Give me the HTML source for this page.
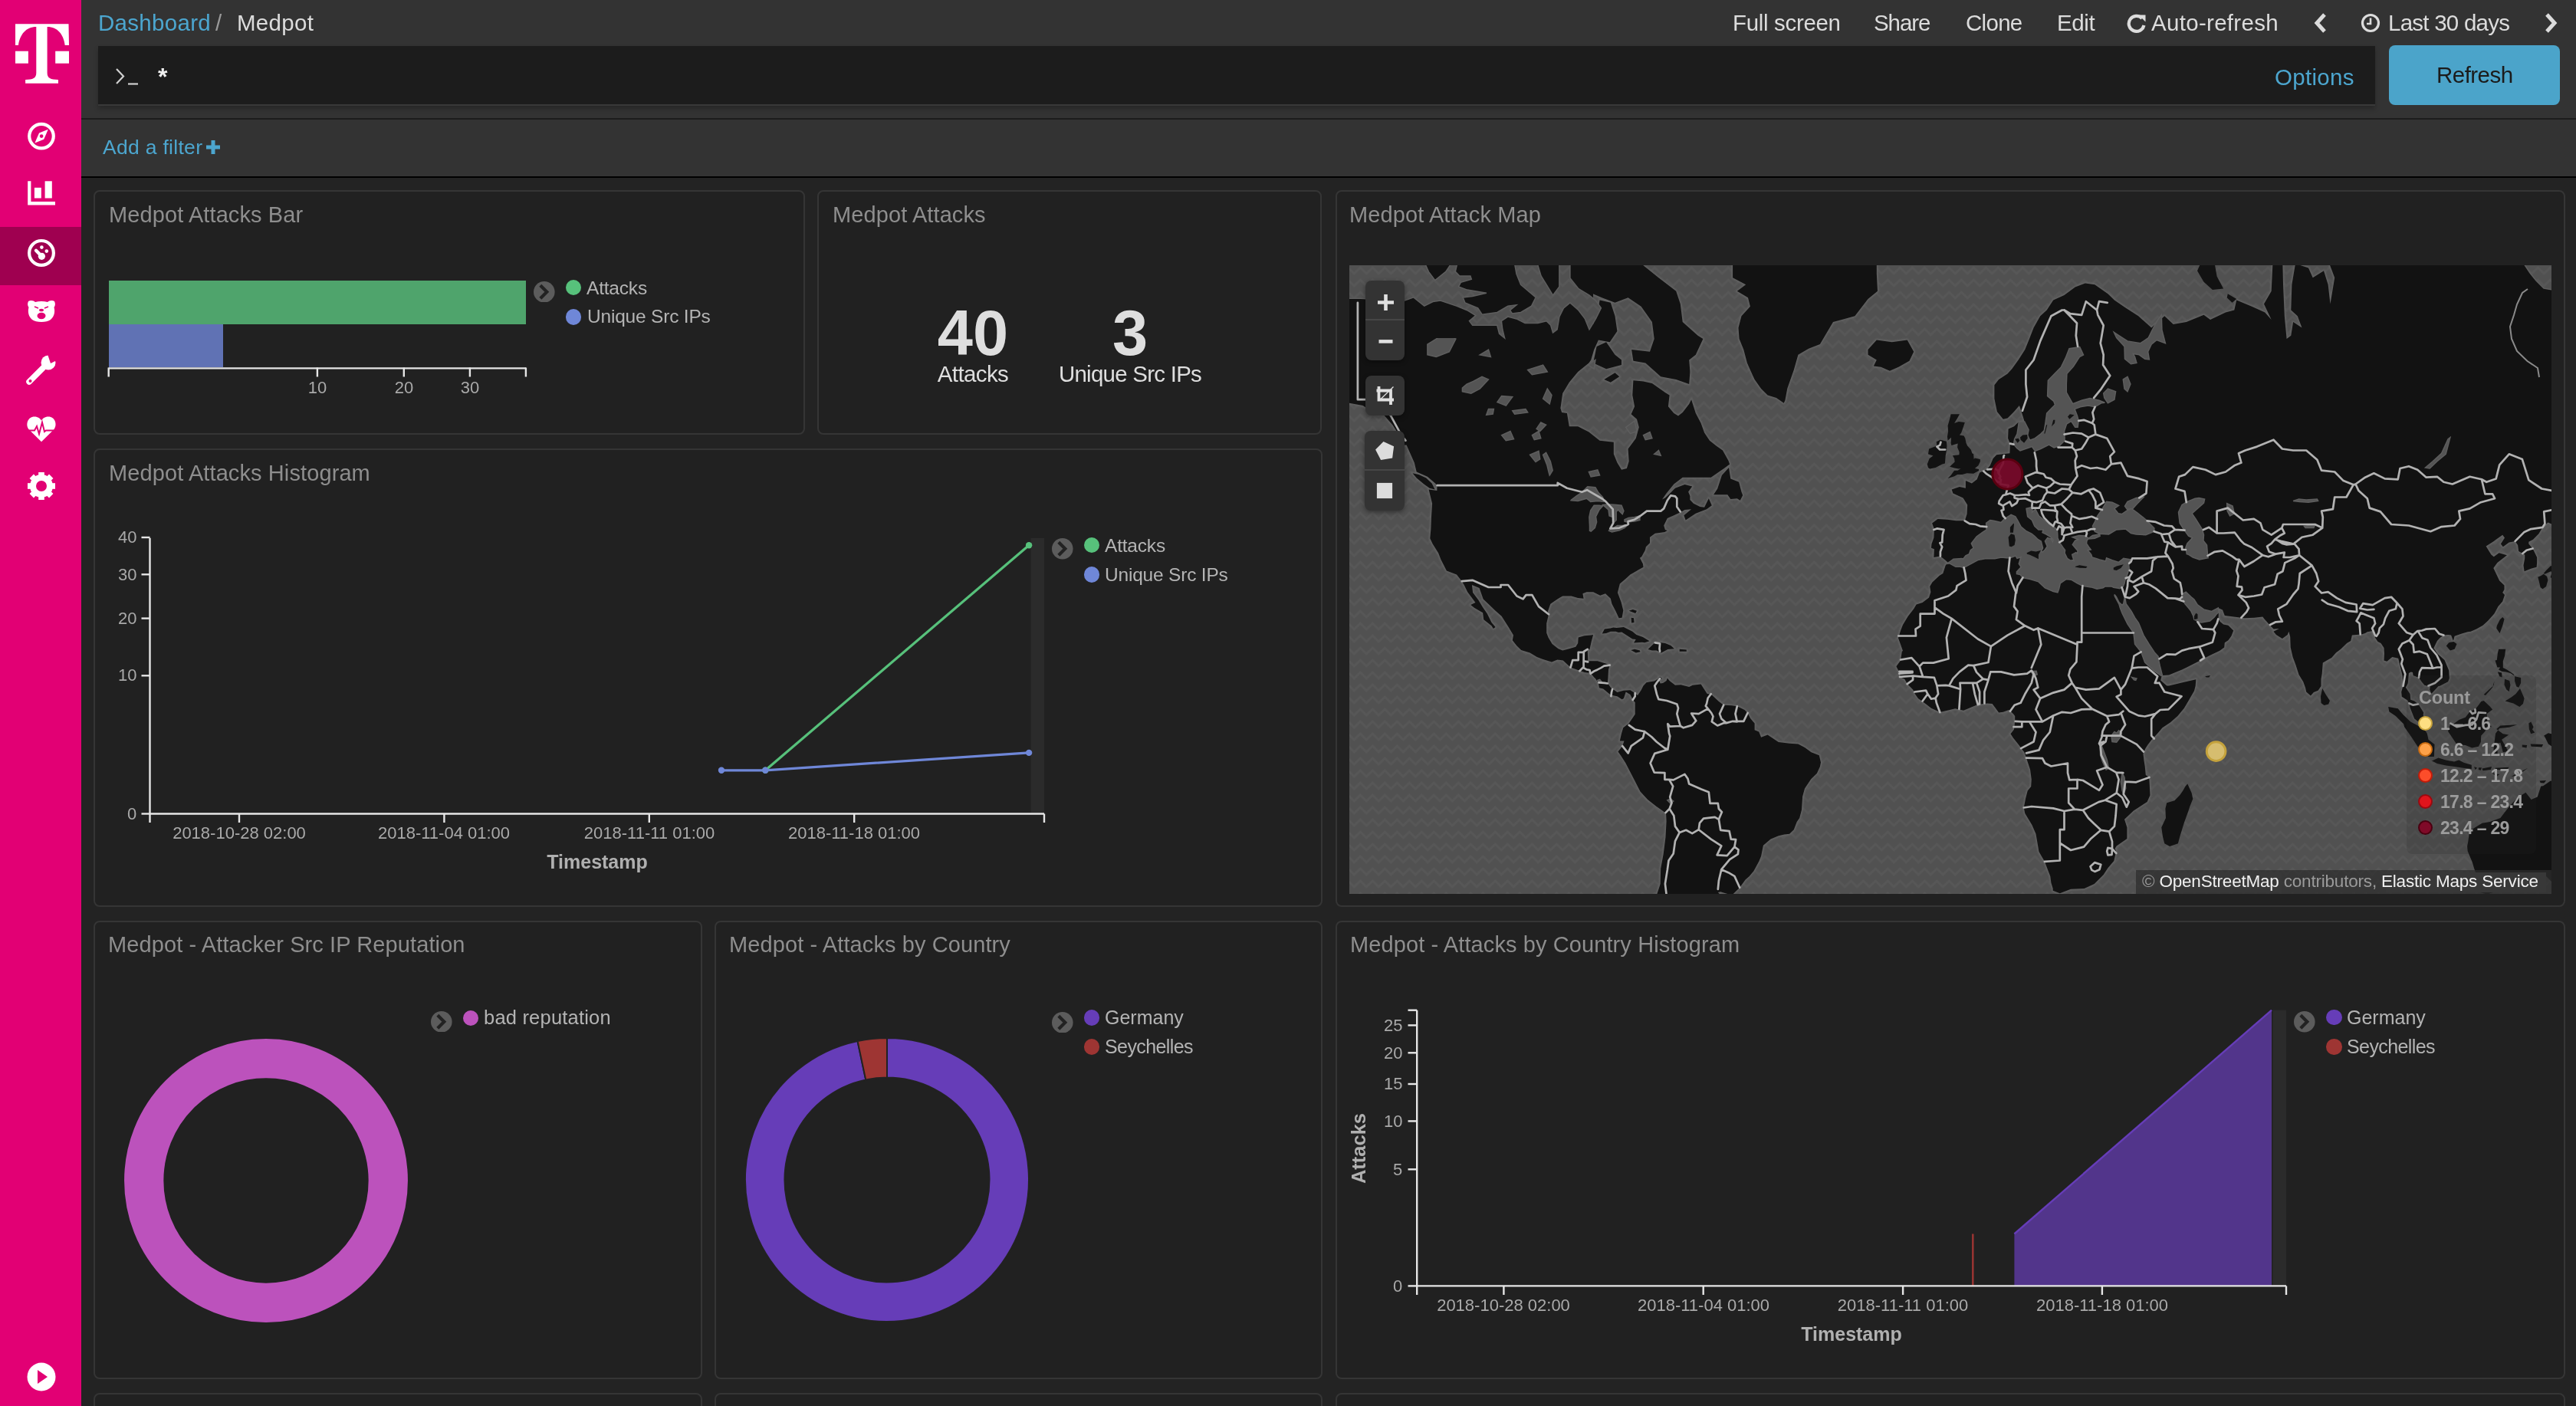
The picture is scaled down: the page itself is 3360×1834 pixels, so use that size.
<!DOCTYPE html><html><head><meta charset="utf-8"><style>html,body{margin:0;padding:0;}body{width:3360px;height:1834px;overflow:hidden;position:relative;background:#232323;font-family:"Liberation Sans", sans-serif;}div{font-family:"Liberation Sans", sans-serif;-webkit-font-smoothing:antialiased}</style></head><body>
<div style="position:absolute;left:106px;top:0;width:3254px;height:154px;background:#333"></div>
<div style="position:absolute;left:106px;top:154px;width:3254px;height:2px;background:#1c1c1c"></div>
<div style="position:absolute;left:106px;top:156px;width:3254px;height:74px;background:#333"></div>
<div style="position:absolute;left:106px;top:230px;width:3254px;height:2px;background:#000"></div>
<div style="position:absolute;left:127.5px;top:15.0px;font-size:29.5px;line-height:29.5px;color:#4ca6cf;font-weight:normal;letter-spacing:0.30px;white-space:nowrap;will-change:transform;">Dashboard</div>
<div style="position:absolute;left:281.0px;top:15.0px;font-size:29.5px;line-height:29.5px;color:#9a9a9a;font-weight:normal;letter-spacing:0.00px;white-space:nowrap;will-change:transform;">/</div>
<div style="position:absolute;left:309.0px;top:15.0px;font-size:29.5px;line-height:29.5px;color:#dcdcdc;font-weight:normal;letter-spacing:0.30px;white-space:nowrap;will-change:transform;">Medpot</div>
<div style="position:absolute;left:2260.0px;top:15.0px;font-size:29.5px;line-height:29.5px;color:#dcdcdc;font-weight:normal;letter-spacing:-0.33px;white-space:nowrap;will-change:transform;">Full screen</div>
<div style="position:absolute;left:2444.0px;top:15.0px;font-size:29.5px;line-height:29.5px;color:#dcdcdc;font-weight:normal;letter-spacing:-1.07px;white-space:nowrap;will-change:transform;">Share</div>
<div style="position:absolute;left:2563.5px;top:15.0px;font-size:29.5px;line-height:29.5px;color:#dcdcdc;font-weight:normal;letter-spacing:-0.70px;white-space:nowrap;will-change:transform;">Clone</div>
<div style="position:absolute;left:2682.5px;top:15.0px;font-size:29.5px;line-height:29.5px;color:#dcdcdc;font-weight:normal;letter-spacing:-0.37px;white-space:nowrap;will-change:transform;">Edit</div>
<div style="position:absolute;left:2806.0px;top:15.0px;font-size:29.5px;line-height:29.5px;color:#dcdcdc;font-weight:normal;letter-spacing:0.30px;white-space:nowrap;will-change:transform;">Auto-refresh</div>
<div style="position:absolute;left:3114.5px;top:15.0px;font-size:29.5px;line-height:29.5px;color:#dcdcdc;font-weight:normal;letter-spacing:-0.75px;white-space:nowrap;will-change:transform;">Last 30 days</div>
<svg style="position:absolute;left:2773px;top:16px" width="28" height="28" viewBox="0 0 28 28"><path d="M21 8 A10 10 0 1 0 23.5 17" stroke="#dcdcdc" stroke-width="4.2" fill="none"/><path d="M16.5 3.5 L25.5 3.5 L25.5 12.5 Z" fill="#dcdcdc"/></svg>
<svg style="position:absolute;left:3015px;top:15px" width="24" height="30" viewBox="0 0 24 30"><path d="M17 4 L7 15 L17 26" stroke="#dcdcdc" stroke-width="5" fill="none"/></svg>
<svg style="position:absolute;left:3316px;top:15px" width="24" height="30" viewBox="0 0 24 30"><path d="M6 4 L16 15 L6 26" stroke="#dcdcdc" stroke-width="5" fill="none"/></svg>
<svg style="position:absolute;left:3079px;top:17px" width="26" height="26" viewBox="0 0 26 26"><circle cx="13" cy="13" r="10.5" stroke="#dcdcdc" stroke-width="3.2" fill="none"/><path d="M13 6.5 V14 H8" stroke="#dcdcdc" stroke-width="2.6" fill="none"/></svg>
<div style="position:absolute;left:128px;top:60px;width:2970px;height:76px;background:#1c1c1c;border-bottom:2px solid #393939;box-shadow:0 4px 6px rgba(0,0,0,0.25)"></div>
<svg style="position:absolute;left:150px;top:88px" width="34" height="24" viewBox="0 0 34 24"><path d="M2 2 L11 11.5 L2 21" stroke="#d0d0d0" stroke-width="2.2" fill="none"/><path d="M17 21.5 H30" stroke="#d0d0d0" stroke-width="2.2"/></svg>
<div style="position:absolute;left:206.0px;top:83.9px;font-size:32.0px;line-height:32.0px;color:#f0f0f0;font-weight:bold;letter-spacing:0.00px;white-space:nowrap;will-change:transform;">*</div>
<div style="position:absolute;left:2967.0px;top:85.5px;font-size:29.5px;line-height:29.5px;color:#4ca6cf;font-weight:normal;letter-spacing:0.30px;white-space:nowrap;will-change:transform;">Options</div>
<div style="position:absolute;left:3116px;top:58.5px;width:223px;height:78.5px;background:#4ba4ca;border-radius:8px"></div>
<div style="position:absolute;left:3177.5px;top:83.0px;font-size:29.5px;line-height:29.5px;color:#1b1b1b;font-weight:normal;letter-spacing:-0.53px;white-space:nowrap;will-change:transform;">Refresh</div>
<div style="position:absolute;left:134.0px;top:178.6px;font-size:26.5px;line-height:26.5px;color:#4ca6cf;font-weight:normal;letter-spacing:0.30px;white-space:nowrap;will-change:transform;">Add a filter</div>
<svg style="position:absolute;left:268px;top:182px" width="20" height="20" viewBox="0 0 20 20"><path d="M10 1 V19 M1 10 H19" stroke="#4ca6cf" stroke-width="5"/></svg>
<div style="position:absolute;left:122px;top:248px;width:928px;height:319px;box-sizing:border-box;border:2px solid #353535;border-radius:8px;background:#212121"></div><div style="position:absolute;left:141.5px;top:265.9px;font-size:29.0px;line-height:29.0px;color:#8e8e8e;font-weight:normal;letter-spacing:0.10px;white-space:nowrap;will-change:transform;">Medpot Attacks Bar</div>
<div style="position:absolute;left:1066px;top:248px;width:658px;height:319px;box-sizing:border-box;border:2px solid #353535;border-radius:8px;background:#212121"></div><div style="position:absolute;left:1085.5px;top:265.9px;font-size:29.0px;line-height:29.0px;color:#8e8e8e;font-weight:normal;letter-spacing:0.10px;white-space:nowrap;will-change:transform;">Medpot Attacks</div>
<div style="position:absolute;left:1742px;top:248px;width:1604px;height:935px;box-sizing:border-box;border:2px solid #353535;border-radius:8px;background:#212121"></div><div style="position:absolute;left:1760.3px;top:265.9px;font-size:29.0px;line-height:29.0px;color:#8e8e8e;font-weight:normal;letter-spacing:0.10px;white-space:nowrap;will-change:transform;">Medpot Attack Map</div>
<div style="position:absolute;left:122px;top:585px;width:1603px;height:598px;box-sizing:border-box;border:2px solid #353535;border-radius:8px;background:#212121"></div><div style="position:absolute;left:141.5px;top:602.9px;font-size:29.0px;line-height:29.0px;color:#8e8e8e;font-weight:normal;letter-spacing:0.10px;white-space:nowrap;will-change:transform;">Medpot Attacks Histogram</div>
<div style="position:absolute;left:122px;top:1201px;width:794px;height:598px;box-sizing:border-box;border:2px solid #353535;border-radius:8px;background:#212121"></div><div style="position:absolute;left:140.5px;top:1218.0px;font-size:29.0px;line-height:29.0px;color:#8e8e8e;font-weight:normal;letter-spacing:0.10px;white-space:nowrap;will-change:transform;">Medpot - Attacker Src IP Reputation</div>
<div style="position:absolute;left:932px;top:1201px;width:793px;height:598px;box-sizing:border-box;border:2px solid #353535;border-radius:8px;background:#212121"></div><div style="position:absolute;left:950.7px;top:1218.0px;font-size:29.0px;line-height:29.0px;color:#8e8e8e;font-weight:normal;letter-spacing:0.10px;white-space:nowrap;will-change:transform;">Medpot - Attacks by Country</div>
<div style="position:absolute;left:1742px;top:1201px;width:1604px;height:598px;box-sizing:border-box;border:2px solid #353535;border-radius:8px;background:#212121"></div><div style="position:absolute;left:1760.8px;top:1218.0px;font-size:29.0px;line-height:29.0px;color:#8e8e8e;font-weight:normal;letter-spacing:0.10px;white-space:nowrap;will-change:transform;">Medpot - Attacks by Country Histogram</div>
<div style="position:absolute;left:122px;top:1817px;width:794px;height:83px;box-sizing:border-box;border:2px solid #353535;border-radius:8px;background:#212121"></div>
<div style="position:absolute;left:932px;top:1817px;width:793px;height:83px;box-sizing:border-box;border:2px solid #353535;border-radius:8px;background:#212121"></div>
<div style="position:absolute;left:1742px;top:1817px;width:1604px;height:83px;box-sizing:border-box;border:2px solid #353535;border-radius:8px;background:#212121"></div>
<div style="position:absolute;left:142px;top:366px;width:544px;height:57px;background:#4fa46c"></div>
<div style="position:absolute;left:142px;top:423px;width:149px;height:56px;background:#6072b4"></div>
<svg style="position:absolute;left:0;top:0" width="1100" height="560"><path d="M141.7 480.4 H686" stroke="#e6e6e6" stroke-width="2.4"/><path d="M141.7 479.5 V491.5" stroke="#e6e6e6" stroke-width="2.4"/><path d="M413.9 479.5 V491.5" stroke="#e6e6e6" stroke-width="2.4"/><path d="M526.8 479.5 V491.5" stroke="#e6e6e6" stroke-width="2.4"/><path d="M612.9 479.5 V491.5" stroke="#e6e6e6" stroke-width="2.4"/><path d="M685.9 479.5 V491.5" stroke="#e6e6e6" stroke-width="2.4"/></svg>
<div style="position:absolute;left:413.9px;top:494.5px;font-size:22.0px;line-height:22.0px;color:#a9a9a9;font-weight:normal;letter-spacing:0.00px;white-space:nowrap;will-change:transform;transform:translateX(-50%);">10</div>
<div style="position:absolute;left:526.8px;top:494.5px;font-size:22.0px;line-height:22.0px;color:#a9a9a9;font-weight:normal;letter-spacing:0.00px;white-space:nowrap;will-change:transform;transform:translateX(-50%);">20</div>
<div style="position:absolute;left:612.9px;top:494.5px;font-size:22.0px;line-height:22.0px;color:#a9a9a9;font-weight:normal;letter-spacing:0.00px;white-space:nowrap;will-change:transform;transform:translateX(-50%);">30</div>
<svg style="position:absolute;left:696.4px;top:366.6px" width="27.6" height="27.6"><circle cx="13.8" cy="13.8" r="13.8" fill="#5c5c5c"/><path d="M10.3 6.8 L17.3 13.8 L10.3 20.8" stroke="#222" stroke-width="4.2" fill="none" stroke-linecap="square"/></svg>
<div style="position:absolute;left:737.9px;top:365.1px;width:20.4px;height:20.4px;border-radius:50%;background:#57c17b"></div>
<div style="position:absolute;left:737.9px;top:403.2px;width:20.4px;height:20.4px;border-radius:50%;background:#6f87d8"></div>
<div style="position:absolute;left:764.6px;top:363.5px;font-size:24.5px;line-height:24.5px;color:#b4b4b4;font-weight:normal;letter-spacing:-0.20px;white-space:nowrap;will-change:transform;">Attacks</div>
<div style="position:absolute;left:765.9px;top:401.0px;font-size:24.5px;line-height:24.5px;color:#b4b4b4;font-weight:normal;letter-spacing:-0.20px;white-space:nowrap;will-change:transform;">Unique Src IPs</div>
<div style="position:absolute;left:1268.9px;top:393.2px;font-size:83.0px;line-height:83.0px;color:#dedede;font-weight:bold;letter-spacing:0.00px;white-space:nowrap;will-change:transform;transform:translateX(-50%);">40</div>
<div style="position:absolute;left:1474.0px;top:393.2px;font-size:83.0px;line-height:83.0px;color:#dedede;font-weight:bold;letter-spacing:0.00px;white-space:nowrap;will-change:transform;transform:translateX(-50%);">3</div>
<div style="position:absolute;left:1269.0px;top:473.3px;font-size:29.5px;line-height:29.5px;color:#dedede;font-weight:normal;letter-spacing:-0.60px;white-space:nowrap;will-change:transform;transform:translateX(-50%);">Attacks</div>
<div style="position:absolute;left:1474.2px;top:473.3px;font-size:29.5px;line-height:29.5px;color:#dedede;font-weight:normal;letter-spacing:-0.75px;white-space:nowrap;will-change:transform;transform:translateX(-50%);">Unique Src IPs</div>
<svg style="position:absolute;left:0;top:0" width="1730" height="1190"><rect x="1344.7" y="701.8" width="17.3" height="359.7" fill="#2b2b2b"/><path d="M195.5 701.8 V1062.5 M195 1061.5 H1362" stroke="#e6e6e6" stroke-width="2.4"/><path d="M184.5 1061.5 H195.5" stroke="#e6e6e6" stroke-width="2.4"/><path d="M184.5 881.3 H195.5" stroke="#e6e6e6" stroke-width="2.4"/><path d="M184.5 806.6 H195.5" stroke="#e6e6e6" stroke-width="2.4"/><path d="M184.5 749.3 H195.5" stroke="#e6e6e6" stroke-width="2.4"/><path d="M184.5 701.0 H195.5" stroke="#e6e6e6" stroke-width="2.4"/><path d="M195.5 1061.5 V1073" stroke="#e6e6e6" stroke-width="2.4"/><path d="M312.0 1061.5 V1073" stroke="#e6e6e6" stroke-width="2.4"/><path d="M579.4 1061.5 V1073" stroke="#e6e6e6" stroke-width="2.4"/><path d="M846.8 1061.5 V1073" stroke="#e6e6e6" stroke-width="2.4"/><path d="M1114.2 1061.5 V1073" stroke="#e6e6e6" stroke-width="2.4"/><path d="M1362.0 1061.5 V1073" stroke="#e6e6e6" stroke-width="2.4"/><path d="M998.3 1004.8 L1342.1 711.3" stroke="#57c17b" stroke-width="3.2" fill="none"/><path d="M941 1004.8 L998.3 1004.8 L1342.1 981.9" stroke="#6f87d8" stroke-width="3.2" fill="none"/><circle cx="998.3" cy="1004.8" r="4.2" fill="#57c17b"/><circle cx="1342.1" cy="711.3" r="4.2" fill="#57c17b"/><circle cx="941.0" cy="1004.8" r="4.2" fill="#6f87d8"/><circle cx="998.3" cy="1004.8" r="4.2" fill="#6f87d8"/><circle cx="1342.1" cy="981.9" r="4.2" fill="#6f87d8"/></svg>
<div style="position:absolute;right:3182.0px;top:1050.7px;font-size:22.0px;line-height:22.0px;color:#a9a9a9;font-weight:normal;letter-spacing:0.00px;white-space:nowrap;will-change:transform;">0</div>
<div style="position:absolute;right:3182.0px;top:870.4px;font-size:22.0px;line-height:22.0px;color:#a9a9a9;font-weight:normal;letter-spacing:0.00px;white-space:nowrap;will-change:transform;">10</div>
<div style="position:absolute;right:3182.0px;top:795.8px;font-size:22.0px;line-height:22.0px;color:#a9a9a9;font-weight:normal;letter-spacing:0.00px;white-space:nowrap;will-change:transform;">20</div>
<div style="position:absolute;right:3182.0px;top:738.5px;font-size:22.0px;line-height:22.0px;color:#a9a9a9;font-weight:normal;letter-spacing:0.00px;white-space:nowrap;will-change:transform;">30</div>
<div style="position:absolute;right:3182.0px;top:690.2px;font-size:22.0px;line-height:22.0px;color:#a9a9a9;font-weight:normal;letter-spacing:0.00px;white-space:nowrap;will-change:transform;">40</div>
<div style="position:absolute;left:312.0px;top:1076.4px;font-size:22.0px;line-height:22.0px;color:#a9a9a9;font-weight:normal;letter-spacing:0.00px;white-space:nowrap;will-change:transform;transform:translateX(-50%);">2018-10-28 02:00</div>
<div style="position:absolute;left:579.4px;top:1076.4px;font-size:22.0px;line-height:22.0px;color:#a9a9a9;font-weight:normal;letter-spacing:0.00px;white-space:nowrap;will-change:transform;transform:translateX(-50%);">2018-11-04 01:00</div>
<div style="position:absolute;left:846.8px;top:1076.4px;font-size:22.0px;line-height:22.0px;color:#a9a9a9;font-weight:normal;letter-spacing:0.00px;white-space:nowrap;will-change:transform;transform:translateX(-50%);">2018-11-11 01:00</div>
<div style="position:absolute;left:1114.2px;top:1076.4px;font-size:22.0px;line-height:22.0px;color:#a9a9a9;font-weight:normal;letter-spacing:0.00px;white-space:nowrap;will-change:transform;transform:translateX(-50%);">2018-11-18 01:00</div>
<div style="position:absolute;left:778.7px;top:1112.3px;font-size:25.0px;line-height:25.0px;color:#b0b0b0;font-weight:bold;letter-spacing:0.00px;white-space:nowrap;will-change:transform;transform:translateX(-50%);">Timestamp</div>
<svg style="position:absolute;left:1372.2px;top:702.0px" width="27.6" height="27.6"><circle cx="13.8" cy="13.8" r="13.8" fill="#5c5c5c"/><path d="M10.3 6.8 L17.3 13.8 L10.3 20.8" stroke="#222" stroke-width="4.2" fill="none" stroke-linecap="square"/></svg>
<div style="position:absolute;left:1414.0px;top:701.1px;width:20.4px;height:20.4px;border-radius:50%;background:#57c17b"></div>
<div style="position:absolute;left:1414.0px;top:739.3px;width:20.4px;height:20.4px;border-radius:50%;background:#6f87d8"></div>
<div style="position:absolute;left:1441.4px;top:699.8px;font-size:24.5px;line-height:24.5px;color:#b4b4b4;font-weight:normal;letter-spacing:-0.20px;white-space:nowrap;will-change:transform;">Attacks</div>
<div style="position:absolute;left:1441.4px;top:737.8px;font-size:24.5px;line-height:24.5px;color:#b4b4b4;font-weight:normal;letter-spacing:-0.20px;white-space:nowrap;will-change:transform;">Unique Src IPs</div>
<svg style="position:absolute;left:158.5px;top:1351.5px" width="376.0" height="376.0"><circle cx="188.0" cy="188.0" r="159.3" stroke="#bc52bc" stroke-width="51.3" fill="none"/></svg>
<svg style="position:absolute;left:562.0px;top:1318.8px" width="27.6" height="27.6"><circle cx="13.8" cy="13.8" r="13.8" fill="#5c5c5c"/><path d="M10.3 6.8 L17.3 13.8 L10.3 20.8" stroke="#222" stroke-width="4.2" fill="none" stroke-linecap="square"/></svg>
<div style="position:absolute;left:603.8px;top:1317.8px;width:20.4px;height:20.4px;border-radius:50%;background:#bc52bc"></div>
<div style="position:absolute;left:631.0px;top:1315.4px;font-size:25.5px;line-height:25.5px;color:#b4b4b4;font-weight:normal;letter-spacing:0.20px;white-space:nowrap;will-change:transform;">bad reputation</div>
<svg style="position:absolute;left:968.8px;top:1351.3px" width="376.0" height="376.0"><path d="M188.00 3.00 A185.0 185.0 0 1 1 149.54 7.04 L160.24 57.42 A133.5 133.5 0 1 0 188.00 54.50 Z" fill="#663db8" stroke="#222" stroke-width="2"/><path d="M149.54 7.04 A185.0 185.0 0 0 1 188.00 3.00 L188.00 54.50 A133.5 133.5 0 0 0 160.24 57.42 Z" fill="#9e3533" stroke="#222" stroke-width="2"/></svg>
<svg style="position:absolute;left:1372.1px;top:1319.6px" width="27.6" height="27.6"><circle cx="13.8" cy="13.8" r="13.8" fill="#5c5c5c"/><path d="M10.3 6.8 L17.3 13.8 L10.3 20.8" stroke="#222" stroke-width="4.2" fill="none" stroke-linecap="square"/></svg>
<div style="position:absolute;left:1413.7px;top:1317.2px;width:20.4px;height:20.4px;border-radius:50%;background:#663db8"></div>
<div style="position:absolute;left:1413.7px;top:1355.2px;width:20.4px;height:20.4px;border-radius:50%;background:#9e3533"></div>
<div style="position:absolute;left:1441.3px;top:1315.3px;font-size:25.0px;line-height:25.0px;color:#b4b4b4;font-weight:normal;letter-spacing:0.00px;white-space:nowrap;will-change:transform;">Germany</div>
<div style="position:absolute;left:1441.3px;top:1353.3px;font-size:25.0px;line-height:25.0px;color:#b4b4b4;font-weight:normal;letter-spacing:-0.60px;white-space:nowrap;will-change:transform;">Seychelles</div>
<svg style="position:absolute;left:1700px;top:1200px" width="1660" height="600"><rect x="1264.5" y="117.7" width="17.5" height="359.7" fill="#2b2b2b"/><path d="M927.4 477.4 L927.4 409.5 L1263.0 117.7 L1263.0 477.4 Z" fill="#52358b"/><path d="M927.4 409.5 L1263.0 117.7" stroke="#663db8" stroke-width="2.4" fill="none"/><path d="M873.3 409.5 L873.3 477.4" stroke="#9e3533" stroke-width="2.4"/><path d="M148.2 117.7 L148.2 478.5 M147.0 477.4 L1282.0 477.4" stroke="#e6e6e6" stroke-width="2.4"/><path d="M136.5 477.4 L148.2 477.4" stroke="#e6e6e6" stroke-width="2.4"/><path d="M136.5 325.3 L148.2 325.3" stroke="#e6e6e6" stroke-width="2.4"/><path d="M136.5 262.4 L148.2 262.4" stroke="#e6e6e6" stroke-width="2.4"/><path d="M136.5 214.0 L148.2 214.0" stroke="#e6e6e6" stroke-width="2.4"/><path d="M136.5 173.3 L148.2 173.3" stroke="#e6e6e6" stroke-width="2.4"/><path d="M136.5 137.4 L148.2 137.4" stroke="#e6e6e6" stroke-width="2.4"/><path d="M136.5 117.7 L148.2 117.7" stroke="#e6e6e6" stroke-width="2.4"/><path d="M148.2 477.4 L148.2 489.0" stroke="#e6e6e6" stroke-width="2.4"/><path d="M261.4 477.4 L261.4 489.0" stroke="#e6e6e6" stroke-width="2.4"/><path d="M521.7 477.4 L521.7 489.0" stroke="#e6e6e6" stroke-width="2.4"/><path d="M782.1 477.4 L782.1 489.0" stroke="#e6e6e6" stroke-width="2.4"/><path d="M1041.9 477.4 L1041.9 489.0" stroke="#e6e6e6" stroke-width="2.4"/><path d="M1282.0 477.4 L1282.0 489.0" stroke="#e6e6e6" stroke-width="2.4"/></svg>
<div style="position:absolute;right:1530.5px;top:1666.6px;font-size:22.0px;line-height:22.0px;color:#a9a9a9;font-weight:normal;letter-spacing:0.00px;white-space:nowrap;will-change:transform;">0</div>
<div style="position:absolute;right:1530.5px;top:1514.5px;font-size:22.0px;line-height:22.0px;color:#a9a9a9;font-weight:normal;letter-spacing:0.00px;white-space:nowrap;will-change:transform;">5</div>
<div style="position:absolute;right:1530.5px;top:1451.5px;font-size:22.0px;line-height:22.0px;color:#a9a9a9;font-weight:normal;letter-spacing:0.00px;white-space:nowrap;will-change:transform;">10</div>
<div style="position:absolute;right:1530.5px;top:1403.2px;font-size:22.0px;line-height:22.0px;color:#a9a9a9;font-weight:normal;letter-spacing:0.00px;white-space:nowrap;will-change:transform;">15</div>
<div style="position:absolute;right:1530.5px;top:1362.5px;font-size:22.0px;line-height:22.0px;color:#a9a9a9;font-weight:normal;letter-spacing:0.00px;white-space:nowrap;will-change:transform;">20</div>
<div style="position:absolute;right:1530.5px;top:1326.6px;font-size:22.0px;line-height:22.0px;color:#a9a9a9;font-weight:normal;letter-spacing:0.00px;white-space:nowrap;will-change:transform;">25</div>
<div style="position:absolute;left:1961.4px;top:1692.4px;font-size:22.0px;line-height:22.0px;color:#a9a9a9;font-weight:normal;letter-spacing:0.00px;white-space:nowrap;will-change:transform;transform:translateX(-50%);">2018-10-28 02:00</div>
<div style="position:absolute;left:2221.7px;top:1692.4px;font-size:22.0px;line-height:22.0px;color:#a9a9a9;font-weight:normal;letter-spacing:0.00px;white-space:nowrap;will-change:transform;transform:translateX(-50%);">2018-11-04 01:00</div>
<div style="position:absolute;left:2482.1px;top:1692.4px;font-size:22.0px;line-height:22.0px;color:#a9a9a9;font-weight:normal;letter-spacing:0.00px;white-space:nowrap;will-change:transform;transform:translateX(-50%);">2018-11-11 01:00</div>
<div style="position:absolute;left:2741.9px;top:1692.4px;font-size:22.0px;line-height:22.0px;color:#a9a9a9;font-weight:normal;letter-spacing:0.00px;white-space:nowrap;will-change:transform;transform:translateX(-50%);">2018-11-18 01:00</div>
<div style="position:absolute;left:2414.8px;top:1728.3px;font-size:25.0px;line-height:25.0px;color:#b0b0b0;font-weight:bold;letter-spacing:0.00px;white-space:nowrap;will-change:transform;transform:translateX(-50%);">Timestamp</div>
<div style="position:absolute;left:1772.7px;top:1498.2px;width:0;height:0"><div style="position:absolute;left:0;top:0;transform:translate(-50%,-50%) rotate(-90deg);font-size:25.5px;line-height:25.5px;font-weight:bold;color:#b0b0b0;white-space:nowrap">Attacks</div></div>
<svg style="position:absolute;left:2992.2px;top:1319.0px" width="27.6" height="27.6"><circle cx="13.8" cy="13.8" r="13.8" fill="#5c5c5c"/><path d="M10.3 6.8 L17.3 13.8 L10.3 20.8" stroke="#222" stroke-width="4.2" fill="none" stroke-linecap="square"/></svg>
<div style="position:absolute;left:3034.2px;top:1316.9px;width:20.4px;height:20.4px;border-radius:50%;background:#663db8"></div>
<div style="position:absolute;left:3034.2px;top:1355.3px;width:20.4px;height:20.4px;border-radius:50%;background:#9e3533"></div>
<div style="position:absolute;left:3060.7px;top:1315.3px;font-size:25.0px;line-height:25.0px;color:#b4b4b4;font-weight:normal;letter-spacing:0.00px;white-space:nowrap;will-change:transform;">Germany</div>
<div style="position:absolute;left:3060.7px;top:1353.3px;font-size:25.0px;line-height:25.0px;color:#b4b4b4;font-weight:normal;letter-spacing:-0.60px;white-space:nowrap;will-change:transform;">Seychelles</div>
<div style="position:absolute;left:1760px;top:346px;width:1568px;height:820px;overflow:hidden">
<svg width="1568" height="820" viewBox="0 0 1568 820" style="position:absolute;left:0;top:0"><defs><pattern id="zz" width="16" height="16" patternUnits="userSpaceOnUse" patternTransform="translate(-1.7 0)"><rect width="16" height="16" fill="#515151"/><path d="M-8 11 L0 3 L8 11 L16 3 L24 11" stroke="#575757" stroke-width="3" fill="none"/></pattern><filter id="glow" x="-5%" y="-5%" width="110%" height="110%"><feGaussianBlur stdDeviation="1.2"/></filter><filter id="soft" x="-2%" y="-2%" width="104%" height="104%"><feGaussianBlur stdDeviation="0.45"/></filter></defs><rect width="1568" height="820" fill="url(#zz)"/><g filter="url(#glow)"><path d="M-79.0 19.9L-51.7 28.6L-29.0 37.2L10.9 48.8L39.3 60.0L47.8 50.4L73.4 42.2L84.8 38.9L101.9 50.4L119.0 45.5L141.7 58.5L158.8 69.4L175.8 77.0L192.9 74.0L210.0 69.4L221.4 74.0L238.4 77.0L252.6 77.0L261.2 67.9L269.7 74.0L277.1 53.7L279.4 32.1L268.6 9.1L278.2 7.2L286.8 28.6L295.3 42.2L303.8 53.7L312.4 64.8L318.1 77.0L323.8 61.6L326.6 45.5L340.8 48.8L346.5 66.3L349.4 85.9L339.7 100.3L324.9 97.5L319.2 110.1L315.2 123.5L312.4 127.5L298.2 139.0L286.8 152.7L278.2 167.1L275.4 186.5L277.1 192.0L283.9 193.1L286.8 210.3L298.2 210.3L312.4 217.5L326.6 228.7L344.8 230.7L344.8 246.3L349.4 257.6L355.0 266.8L361.9 265.0L364.7 255.7L363.6 239.5L373.8 225.7L377.8 211.3L375.0 200.7L367.6 194.2L372.1 184.3L369.3 169.4L370.4 150.3L383.5 151.5L394.9 153.9L403.4 160.0L411.9 165.9L417.6 169.4L415.9 184.3L423.3 193.1L429.0 196.4L434.7 192.0L443.2 180.9L446.1 175.2L451.8 193.1L458.6 206.0L463.1 218.5L470.0 228.7L478.5 235.6L487.0 241.5L494.4 254.8L496.1 259.4L488.7 265.0L471.7 276.7L446.1 276.7L434.7 276.7L423.3 285.5L413.6 297.5L408.0 305.5L411.9 303.4L417.6 298.3L425.0 290.7L437.5 285.9L447.2 288.5L442.1 295.4L444.4 300.9L444.4 305.9L448.9 310.8L457.4 314.9L463.1 315.7L468.8 304.2L472.8 313.3L466.0 318.2L451.8 323.8L438.7 332.5L436.4 326.2L446.1 318.2L437.5 319.0L431.8 322.2L423.3 326.2L414.8 330.1L410.2 339.5L411.9 344.9L414.8 346.0L411.4 347.9L406.2 348.7L398.8 349.8L392.0 354.7L392.0 362.2L386.9 367.3L385.8 371.7L381.2 380.3L378.9 381.7L382.9 389.5L383.5 393.7L377.2 397.2L370.4 401.3L366.4 403.4L360.7 408.8L352.8 415.6L349.9 426.9L354.5 439.3L357.3 450.2L355.6 459.7L351.6 460.3L347.6 451.4L342.5 441.8L340.8 434.7L334.0 428.2L327.2 430.8L318.1 426.2L309.5 426.2L304.4 428.2L305.6 434.7L298.2 434.1L289.6 431.5L278.2 431.5L271.4 435.4L262.3 441.8L258.9 451.4L260.0 455.2L257.2 467.2L257.2 479.5L259.5 485.6L264.6 494.1L272.6 500.2L278.2 502.6L286.8 500.2L295.3 497.7L298.2 492.9L298.7 485.6L306.7 483.2L315.2 482.6L318.1 482.0L315.8 490.5L313.5 500.8L310.7 502.0L311.2 515.6L307.3 516.2L323.8 516.2L335.1 519.8L339.7 521.6L338.0 527.4L337.4 539.1L336.8 544.9L340.8 550.7L349.4 557.0L357.9 554.7L366.4 554.2L372.7 558.2L373.8 562.8L369.8 566.8L366.4 559.9L360.7 556.5L357.9 565.1L355.6 566.2L349.4 562.2L340.8 560.5L331.2 552.4L326.0 551.3L324.9 544.9L320.9 539.1L319.2 537.4L314.7 532.1L306.7 530.9L298.2 528.0L288.5 524.5L278.8 515.6L271.4 514.5L264.0 517.4L252.6 513.9L244.7 510.9L235.6 505.5L224.2 502.0L218.5 496.5L212.8 489.3L214.0 482.6L207.7 472.1L198.6 457.8L190.1 450.2L182.1 442.5L174.7 435.4L169.6 420.9L159.9 416.9L161.1 426.9L168.4 436.7L174.1 446.3L179.8 454.6L185.5 465.9L190.6 472.1L187.8 474.0L185.5 470.3L175.3 462.2L174.1 453.3L163.3 447.0L158.2 443.1L164.5 439.9L154.2 426.2L149.7 416.9L146.8 412.2L140.0 403.4L126.9 398.5L119.5 383.9L116.1 375.3L108.7 363.6L105.3 356.2L106.4 344.1L107.0 328.6L108.1 310.8L103.6 292.4L114.4 294.1L114.4 287.2L112.1 284.6L101.9 275.8L87.7 269.5L84.8 257.6L74.6 234.6L70.6 234.6L64.9 221.6L56.4 208.2L45.0 195.3L36.5 195.3L17.7 183.1L-6.2 178.6L-20.4 170.6L-29.0 178.6L-48.9 187.6L-50.6 169.4L-40.3 164.7L-57.4 189.8L-74.5 206.0L-88.7 221.6L-108.6 231.7L-124.5 237.6L-102.9 221.6L-97.2 193.1L-108.6 194.2L-122.8 172.9L-127.9 149.0L-102.9 123.5L-127.9 123.5L-142.7 108.7L-122.8 96.1L-105.8 98.9L-120.0 77.0L-135.3 69.4L-114.3 50.4L-97.2 32.1ZM111.6 292.4L104.7 290.7L97.3 285.5L87.7 277.6L82.5 271.3L90.5 273.1L100.2 277.6L107.6 284.6ZM475.1 299.2L480.2 291.5L485.9 274.0L495.0 264.0L497.3 278.4L508.1 282.8L511.5 295.8L513.2 300.0L509.8 306.7L505.8 304.2L497.3 305.0L493.3 299.2L475.6 299.2ZM443.2 155.1L426.2 149.0L406.2 145.3L386.3 127.5L370.4 124.8L368.1 110.1L392.0 112.8L397.7 96.1L394.9 74.0L380.6 53.7L363.6 42.2L346.5 48.8L329.4 42.2L309.5 33.8L303.8 16.3L301.0 -11.7L329.4 -21.6L357.9 -25.6L380.6 -2.1L403.4 16.3L426.2 33.8L431.8 50.4L434.7 74.0L454.6 91.8L461.4 96.1L451.8 116.8L443.2 123.5L444.4 139.0ZM355.0 130.1L335.1 135.2L318.1 127.5L322.6 105.9L335.1 100.3L346.5 116.8L355.0 123.5ZM238.4 55.3L215.7 60.0L198.6 63.2L170.2 64.8L144.6 50.4L138.9 33.8L153.1 19.9L141.7 -2.1L164.5 -11.7L187.2 -5.9L215.7 -5.9L232.7 25.2L238.4 42.2ZM127.5 16.3L119.0 16.3L99.0 7.2L107.6 -21.6L101.9 -38.0L130.3 -38.0L150.2 -15.6L141.7 7.2ZM269.7 64.8L255.5 58.5L252.6 50.4L261.2 42.2L272.6 45.5ZM261.2 16.3L238.4 7.2L241.3 -27.6L261.2 -27.6L264.0 -2.1ZM281.1 3.5L269.7 -2.1L272.6 -31.7L295.3 -31.7L298.2 -11.7ZM340.8 152.7L332.3 149.0L346.5 140.3L352.2 145.3ZM566.7 179.8L557.0 172.9L545.6 169.4L537.1 161.1L528.6 149.0L522.9 136.5L518.9 127.5L514.3 110.1L508.6 96.1L507.5 81.5L511.5 66.3L522.9 53.7L520.0 42.2L505.8 33.8L517.2 25.2L500.1 16.3L500.1 -2.1L488.7 -31.7L471.7 -75.7L426.2 -100.1L397.7 -126.4L471.7 -259.2L642.3 -302.9L699.2 -186.2L710.6 -100.1L699.2 -53.0L687.8 -11.7L687.8 10.9L689.0 33.8L676.5 43.9L659.4 66.3L642.3 70.9L631.0 74.0L613.9 103.1L599.1 108.7L585.4 116.8L579.8 136.5L571.2 161.1L568.4 176.3ZM676.5 110.1L687.8 97.5L707.8 100.3L727.7 97.5L736.2 112.8L730.5 124.8L716.3 132.7L704.9 137.8L693.5 132.7L683.9 131.4L687.8 123.5L676.5 116.8ZM329.7 480.4L332.9 474.6L340.8 473.4L344.2 472.4L348.8 473.1L357.9 472.1L369.3 477.7L374.4 482.0L382.9 485.0L391.5 490.2L385.2 492.3L381.8 491.7L371.0 492.6L373.8 488.1L369.3 487.5L360.7 482.0L355.3 478.6L351.1 478.9L347.6 477.7L340.8 477.7L335.1 480.1ZM389.5 501.1L398.8 492.0L406.2 492.3L411.9 492.9L419.3 495.9L423.9 500.2L415.3 501.1L406.8 505.5L400.6 502.6L394.9 502.6ZM367.3 502.0L372.1 500.8L378.9 502.6L379.5 504.3L373.8 505.5L368.1 502.6ZM430.7 500.8L439.8 501.4L439.8 503.7L430.7 503.7ZM367.6 459.7L371.0 460.3L371.5 465.9L368.1 466.5ZM369.8 448.9L375.0 450.8L373.2 454.0L364.7 450.8ZM372.7 558.2L376.1 561.1L380.6 554.2L383.5 548.4L387.5 544.3L390.9 543.5L397.7 542.6L402.3 539.7L405.1 536.8L408.0 539.1L404.0 541.4L405.7 545.5L409.1 544.9L413.6 542.0L414.8 538.5L417.6 542.0L425.0 547.8L432.4 547.2L443.2 550.1L447.8 547.8L458.6 546.6L460.9 550.1L466.5 558.8L472.8 560.5L481.9 569.1L488.2 573.7L499.0 574.3L506.4 575.4L515.5 580.0L519.5 584.0L522.9 590.8L528.6 597.6L528.6 606.2L534.2 608.4L537.1 615.8L545.6 612.4L559.8 622.1L574.1 623.8L585.4 624.4L594.0 628.9L602.5 635.2L612.8 639.2L615.0 648.4L613.9 654.1L609.9 662.7L602.2 670.3L594.0 682.5L591.1 693.0L590.0 710.2L587.2 721.0L583.7 725.9L579.8 736.2L574.1 741.8L567.2 742.4L559.8 744.2L549.6 748.6L539.9 756.7L537.1 770.7L534.2 777.8L527.4 790.2L521.7 796.9L516.6 801.5L509.2 811.7L500.7 820.0L493.3 820.0L484.2 817.2L480.8 817.9L487.0 824.1L485.9 841.9L460.3 849.2L443.2 871.6L426.2 937.3L423.3 964.7L409.1 969.5L392.0 937.3L394.9 895.2L394.9 864.0L396.6 834.7L405.7 806.9L406.2 786.9L409.7 768.1L412.5 746.1L413.6 725.2L413.1 715.0L406.8 710.2L400.6 706.0L389.2 697.1L379.5 686.6L374.4 676.6L365.9 659.9L360.2 648.9L353.9 639.2L350.5 634.6L356.2 627.2L358.5 620.4L352.8 620.4L355.0 610.7L357.3 603.3L364.7 597.6L372.7 585.7L372.7 576.5L372.7 570.2L369.8 566.8ZM781.1 388.1L777.2 384.6L770.9 379.6L762.4 381.0L762.9 370.2L759.0 368.8L759.5 363.6L762.4 355.5L762.9 344.1L760.1 336.4L767.5 330.9L780.0 331.7L791.4 333.3L802.8 333.3L805.6 324.6L806.2 312.5L800.5 303.4L787.4 297.5L785.7 292.4L795.9 288.9L803.9 290.7L803.9 281.1L811.9 284.6L818.7 279.3L822.1 270.4L831.2 266.8L835.8 261.3L839.7 252.0L844.3 247.2L852.8 246.3L861.4 245.3L861.9 232.6L859.1 225.7L859.6 213.4L867.0 210.3L873.3 203.9L880.7 203.9L876.7 190.9L873.9 183.1L867.0 190.9L858.5 199.6L852.8 200.7L844.9 190.9L841.4 174.0L841.4 156.3L847.1 149.0L858.5 141.6L864.2 135.2L872.7 123.5L881.3 110.1L887.0 96.1L892.6 81.5L901.2 66.3L909.7 58.5L918.2 45.5L932.5 38.9L946.7 28.6L959.8 23.4L972.3 25.2L989.4 37.2L997.9 45.5L1012.1 55.3L1029.2 66.3L1046.2 81.5L1063.3 66.3L1074.7 77.0L1091.8 74.0L1114.5 64.8L1123.0 70.9L1143.0 61.6L1154.3 58.5L1157.2 45.5L1177.1 53.7L1194.2 61.6L1202.7 70.9L1193.0 50.4L1202.7 33.8L1204.4 -2.1L1208.4 -17.6L1216.9 -21.6L1218.0 25.2L1219.8 66.3L1222.6 96.1L1228.3 91.8L1231.1 74.0L1242.5 81.5L1236.8 66.3L1228.3 58.5L1229.4 25.2L1234.0 -2.1L1251.0 3.5L1256.7 16.3L1271.0 7.2L1276.6 25.2L1279.5 50.4L1282.3 33.8L1285.2 16.3L1271.0 -21.6L1302.2 -31.7L1381.9 -126.4L1455.8 -31.7L1495.7 -15.6L1535.5 -21.6L1552.6 21.7L1566.8 16.3L1609.4 -2.1L1723.2 42.2L1837.0 74.0L1837.0 178.6L1723.2 178.6L1666.3 189.8L1615.1 251.0L1612.3 291.5L1581.0 332.5L1569.6 338.0L1563.4 335.6L1556.5 341.8L1551.4 350.2L1544.0 357.7L1538.3 360.7L1538.3 363.6L1543.5 369.5L1549.1 381.0L1549.1 388.1L1548.6 393.7L1541.2 395.8L1532.6 399.2L1531.5 391.6L1533.2 382.4L1533.2 377.4L1530.4 376.0L1525.2 373.1L1524.1 365.1L1520.7 359.9L1512.7 361.4L1504.8 367.3L1501.9 363.6L1507.0 355.5L1504.2 351.7L1495.7 357.7L1492.8 359.9L1482.6 366.6L1489.4 377.4L1492.8 380.3L1499.6 375.3L1509.9 378.2L1497.4 388.1L1492.3 395.1L1500.2 411.5L1506.5 417.6L1506.5 422.9L1504.2 426.9L1507.0 430.1L1504.2 438.6L1498.5 445.1L1493.4 454.6L1484.9 464.0L1478.6 469.7L1470.1 474.6L1462.7 477.7L1458.7 478.3L1450.2 480.8L1441.6 483.8L1439.9 489.9L1437.1 482.6L1433.1 482.0L1427.4 482.6L1422.3 486.2L1418.9 489.9L1414.3 499.6L1419.4 506.7L1428.5 515.1L1434.2 528.6L1434.8 539.1L1433.1 543.2L1422.3 548.7L1420.6 549.0L1411.5 558.8L1409.2 553.6L1409.8 549.5L1402.4 547.8L1399.0 543.7L1395.0 537.9L1387.6 535.0L1387.0 530.9L1384.7 530.4L1381.9 532.1L1381.3 539.1L1380.8 544.9L1377.9 550.7L1383.6 559.3L1384.2 566.8L1389.3 568.5L1394.4 572.5L1401.2 583.4L1400.7 586.2L1401.8 591.9L1405.8 599.9L1401.2 600.5L1394.4 595.4L1389.3 591.4L1383.6 577.1L1382.5 571.4L1380.2 567.4L1372.8 562.8L1372.2 556.5L1373.9 550.7L1373.9 536.8L1371.6 526.8L1368.2 512.7L1360.3 510.9L1353.4 516.8L1349.5 515.6L1350.0 506.7L1349.5 499.0L1345.5 492.9L1341.5 491.1L1336.4 483.2L1335.2 477.1L1327.8 478.3L1325.0 480.1L1319.9 481.4L1313.6 482.0L1307.9 482.6L1306.2 489.9L1301.1 492.9L1293.7 500.2L1286.9 505.5L1281.2 512.1L1274.9 515.6L1269.8 518.6L1268.7 532.7L1267.5 539.7L1267.5 549.0L1263.6 554.7L1257.9 557.0L1253.9 561.6L1248.2 556.5L1247.1 551.3L1244.2 543.2L1238.5 533.9L1234.5 521.6L1230.6 510.9L1227.7 498.4L1227.2 484.4L1225.4 477.7L1223.7 482.0L1216.9 486.9L1208.9 482.0L1205.5 477.7L1212.9 474.0L1205.5 474.6L1201.0 469.7L1194.2 462.2L1191.3 458.4L1180.5 459.7L1167.4 460.3L1163.4 459.7L1157.7 459.0L1141.8 457.1L1139.0 449.5L1133.3 447.0L1133.9 452.7L1133.6 460.3L1135.6 464.7L1140.1 468.4L1146.4 469.7L1153.2 476.5L1150.4 483.8L1146.4 489.3L1141.8 492.3L1141.2 498.4L1135.0 503.1L1127.0 506.7L1120.8 509.7L1110.0 515.6L1092.3 524.5L1086.1 527.4L1077.5 530.9L1069.0 534.4L1060.5 535.0L1059.3 536.8L1058.2 541.4L1066.2 548.4L1069.0 548.4L1077.5 546.6L1088.9 543.7L1104.3 540.3L1103.7 548.4L1102.0 555.3L1094.6 568.0L1088.9 577.7L1080.4 588.0L1070.7 596.5L1060.5 603.3L1054.8 609.9L1046.2 619.3L1041.1 626.1L1038.3 630.6L1035.4 636.9L1036.6 646.7L1037.7 653.5L1038.8 665.1L1041.7 666.8L1043.4 670.8L1044.5 691.3L1040.6 700.1L1022.9 711.4L1011.0 722.8L1014.4 733.2L1014.4 748.0L1000.7 757.4L998.5 761.1L1000.2 764.3L997.3 777.1L995.6 779.1L989.4 786.3L983.7 794.9L971.7 806.9L958.6 813.1L941.0 813.8L926.8 819.3L917.7 815.8L917.7 813.1L915.4 805.6L914.3 796.9L906.9 777.8L899.5 764.9L895.5 741.8L890.4 730.1L881.3 715.0L879.8 707.5L882.1 695.4L884.7 685.4L889.2 680.1L889.8 670.8L888.1 658.1L883.0 642.6L880.4 635.2L872.7 624.9L865.9 616.4L862.5 611.3L867.0 605.6L868.2 594.8L868.2 588.0L866.5 585.7L863.1 582.2L860.2 580.0L852.8 582.8L847.1 583.4L842.0 576.5L838.6 572.0L832.3 571.4L827.2 572.0L819.8 573.1L811.9 576.3L801.1 580.8L790.2 578.3L770.3 583.0L759.0 577.7L751.6 572.0L741.9 565.1L737.9 559.3L735.1 553.6L727.7 546.1L724.3 539.7L719.1 537.4L717.4 530.9L713.4 523.3L719.1 515.6L720.8 503.7L722.0 503.1L719.1 494.7L716.0 486.2L719.1 476.5L722.0 469.0L728.8 457.8L736.2 448.3L739.6 442.5L747.6 439.9L756.1 433.4L758.4 426.2L757.2 418.9L760.4 413.5L769.8 404.7L774.3 402.0L777.7 391.6L779.4 389.5Z" fill="#5e5e5e" stroke="#656565" stroke-width="3"/></g><path d="M-79.0 19.9L-51.7 28.6L-29.0 37.2L10.9 48.8L39.3 60.0L47.8 50.4L73.4 42.2L84.8 38.9L101.9 50.4L119.0 45.5L141.7 58.5L158.8 69.4L175.8 77.0L192.9 74.0L210.0 69.4L221.4 74.0L238.4 77.0L252.6 77.0L261.2 67.9L269.7 74.0L277.1 53.7L279.4 32.1L268.6 9.1L278.2 7.2L286.8 28.6L295.3 42.2L303.8 53.7L312.4 64.8L318.1 77.0L323.8 61.6L326.6 45.5L340.8 48.8L346.5 66.3L349.4 85.9L339.7 100.3L324.9 97.5L319.2 110.1L315.2 123.5L312.4 127.5L298.2 139.0L286.8 152.7L278.2 167.1L275.4 186.5L277.1 192.0L283.9 193.1L286.8 210.3L298.2 210.3L312.4 217.5L326.6 228.7L344.8 230.7L344.8 246.3L349.4 257.6L355.0 266.8L361.9 265.0L364.7 255.7L363.6 239.5L373.8 225.7L377.8 211.3L375.0 200.7L367.6 194.2L372.1 184.3L369.3 169.4L370.4 150.3L383.5 151.5L394.9 153.9L403.4 160.0L411.9 165.9L417.6 169.4L415.9 184.3L423.3 193.1L429.0 196.4L434.7 192.0L443.2 180.9L446.1 175.2L451.8 193.1L458.6 206.0L463.1 218.5L470.0 228.7L478.5 235.6L487.0 241.5L494.4 254.8L496.1 259.4L488.7 265.0L471.7 276.7L446.1 276.7L434.7 276.7L423.3 285.5L413.6 297.5L408.0 305.5L411.9 303.4L417.6 298.3L425.0 290.7L437.5 285.9L447.2 288.5L442.1 295.4L444.4 300.9L444.4 305.9L448.9 310.8L457.4 314.9L463.1 315.7L468.8 304.2L472.8 313.3L466.0 318.2L451.8 323.8L438.7 332.5L436.4 326.2L446.1 318.2L437.5 319.0L431.8 322.2L423.3 326.2L414.8 330.1L410.2 339.5L411.9 344.9L414.8 346.0L411.4 347.9L406.2 348.7L398.8 349.8L392.0 354.7L392.0 362.2L386.9 367.3L385.8 371.7L381.2 380.3L378.9 381.7L382.9 389.5L383.5 393.7L377.2 397.2L370.4 401.3L366.4 403.4L360.7 408.8L352.8 415.6L349.9 426.9L354.5 439.3L357.3 450.2L355.6 459.7L351.6 460.3L347.6 451.4L342.5 441.8L340.8 434.7L334.0 428.2L327.2 430.8L318.1 426.2L309.5 426.2L304.4 428.2L305.6 434.7L298.2 434.1L289.6 431.5L278.2 431.5L271.4 435.4L262.3 441.8L258.9 451.4L260.0 455.2L257.2 467.2L257.2 479.5L259.5 485.6L264.6 494.1L272.6 500.2L278.2 502.6L286.8 500.2L295.3 497.7L298.2 492.9L298.7 485.6L306.7 483.2L315.2 482.6L318.1 482.0L315.8 490.5L313.5 500.8L310.7 502.0L311.2 515.6L307.3 516.2L323.8 516.2L335.1 519.8L339.7 521.6L338.0 527.4L337.4 539.1L336.8 544.9L340.8 550.7L349.4 557.0L357.9 554.7L366.4 554.2L372.7 558.2L373.8 562.8L369.8 566.8L366.4 559.9L360.7 556.5L357.9 565.1L355.6 566.2L349.4 562.2L340.8 560.5L331.2 552.4L326.0 551.3L324.9 544.9L320.9 539.1L319.2 537.4L314.7 532.1L306.7 530.9L298.2 528.0L288.5 524.5L278.8 515.6L271.4 514.5L264.0 517.4L252.6 513.9L244.7 510.9L235.6 505.5L224.2 502.0L218.5 496.5L212.8 489.3L214.0 482.6L207.7 472.1L198.6 457.8L190.1 450.2L182.1 442.5L174.7 435.4L169.6 420.9L159.9 416.9L161.1 426.9L168.4 436.7L174.1 446.3L179.8 454.6L185.5 465.9L190.6 472.1L187.8 474.0L185.5 470.3L175.3 462.2L174.1 453.3L163.3 447.0L158.2 443.1L164.5 439.9L154.2 426.2L149.7 416.9L146.8 412.2L140.0 403.4L126.9 398.5L119.5 383.9L116.1 375.3L108.7 363.6L105.3 356.2L106.4 344.1L107.0 328.6L108.1 310.8L103.6 292.4L114.4 294.1L114.4 287.2L112.1 284.6L101.9 275.8L87.7 269.5L84.8 257.6L74.6 234.6L70.6 234.6L64.9 221.6L56.4 208.2L45.0 195.3L36.5 195.3L17.7 183.1L-6.2 178.6L-20.4 170.6L-29.0 178.6L-48.9 187.6L-50.6 169.4L-40.3 164.7L-57.4 189.8L-74.5 206.0L-88.7 221.6L-108.6 231.7L-124.5 237.6L-102.9 221.6L-97.2 193.1L-108.6 194.2L-122.8 172.9L-127.9 149.0L-102.9 123.5L-127.9 123.5L-142.7 108.7L-122.8 96.1L-105.8 98.9L-120.0 77.0L-135.3 69.4L-114.3 50.4L-97.2 32.1ZM111.6 292.4L104.7 290.7L97.3 285.5L87.7 277.6L82.5 271.3L90.5 273.1L100.2 277.6L107.6 284.6ZM475.1 299.2L480.2 291.5L485.9 274.0L495.0 264.0L497.3 278.4L508.1 282.8L511.5 295.8L513.2 300.0L509.8 306.7L505.8 304.2L497.3 305.0L493.3 299.2L475.6 299.2ZM443.2 155.1L426.2 149.0L406.2 145.3L386.3 127.5L370.4 124.8L368.1 110.1L392.0 112.8L397.7 96.1L394.9 74.0L380.6 53.7L363.6 42.2L346.5 48.8L329.4 42.2L309.5 33.8L303.8 16.3L301.0 -11.7L329.4 -21.6L357.9 -25.6L380.6 -2.1L403.4 16.3L426.2 33.8L431.8 50.4L434.7 74.0L454.6 91.8L461.4 96.1L451.8 116.8L443.2 123.5L444.4 139.0ZM355.0 130.1L335.1 135.2L318.1 127.5L322.6 105.9L335.1 100.3L346.5 116.8L355.0 123.5ZM238.4 55.3L215.7 60.0L198.6 63.2L170.2 64.8L144.6 50.4L138.9 33.8L153.1 19.9L141.7 -2.1L164.5 -11.7L187.2 -5.9L215.7 -5.9L232.7 25.2L238.4 42.2ZM127.5 16.3L119.0 16.3L99.0 7.2L107.6 -21.6L101.9 -38.0L130.3 -38.0L150.2 -15.6L141.7 7.2ZM269.7 64.8L255.5 58.5L252.6 50.4L261.2 42.2L272.6 45.5ZM261.2 16.3L238.4 7.2L241.3 -27.6L261.2 -27.6L264.0 -2.1ZM281.1 3.5L269.7 -2.1L272.6 -31.7L295.3 -31.7L298.2 -11.7ZM340.8 152.7L332.3 149.0L346.5 140.3L352.2 145.3ZM566.7 179.8L557.0 172.9L545.6 169.4L537.1 161.1L528.6 149.0L522.9 136.5L518.9 127.5L514.3 110.1L508.6 96.1L507.5 81.5L511.5 66.3L522.9 53.7L520.0 42.2L505.8 33.8L517.2 25.2L500.1 16.3L500.1 -2.1L488.7 -31.7L471.7 -75.7L426.2 -100.1L397.7 -126.4L471.7 -259.2L642.3 -302.9L699.2 -186.2L710.6 -100.1L699.2 -53.0L687.8 -11.7L687.8 10.9L689.0 33.8L676.5 43.9L659.4 66.3L642.3 70.9L631.0 74.0L613.9 103.1L599.1 108.7L585.4 116.8L579.8 136.5L571.2 161.1L568.4 176.3ZM676.5 110.1L687.8 97.5L707.8 100.3L727.7 97.5L736.2 112.8L730.5 124.8L716.3 132.7L704.9 137.8L693.5 132.7L683.9 131.4L687.8 123.5L676.5 116.8ZM329.7 480.4L332.9 474.6L340.8 473.4L344.2 472.4L348.8 473.1L357.9 472.1L369.3 477.7L374.4 482.0L382.9 485.0L391.5 490.2L385.2 492.3L381.8 491.7L371.0 492.6L373.8 488.1L369.3 487.5L360.7 482.0L355.3 478.6L351.1 478.9L347.6 477.7L340.8 477.7L335.1 480.1ZM389.5 501.1L398.8 492.0L406.2 492.3L411.9 492.9L419.3 495.9L423.9 500.2L415.3 501.1L406.8 505.5L400.6 502.6L394.9 502.6ZM367.3 502.0L372.1 500.8L378.9 502.6L379.5 504.3L373.8 505.5L368.1 502.6ZM430.7 500.8L439.8 501.4L439.8 503.7L430.7 503.7ZM367.6 459.7L371.0 460.3L371.5 465.9L368.1 466.5ZM369.8 448.9L375.0 450.8L373.2 454.0L364.7 450.8ZM372.7 558.2L376.1 561.1L380.6 554.2L383.5 548.4L387.5 544.3L390.9 543.5L397.7 542.6L402.3 539.7L405.1 536.8L408.0 539.1L404.0 541.4L405.7 545.5L409.1 544.9L413.6 542.0L414.8 538.5L417.6 542.0L425.0 547.8L432.4 547.2L443.2 550.1L447.8 547.8L458.6 546.6L460.9 550.1L466.5 558.8L472.8 560.5L481.9 569.1L488.2 573.7L499.0 574.3L506.4 575.4L515.5 580.0L519.5 584.0L522.9 590.8L528.6 597.6L528.6 606.2L534.2 608.4L537.1 615.8L545.6 612.4L559.8 622.1L574.1 623.8L585.4 624.4L594.0 628.9L602.5 635.2L612.8 639.2L615.0 648.4L613.9 654.1L609.9 662.7L602.2 670.3L594.0 682.5L591.1 693.0L590.0 710.2L587.2 721.0L583.7 725.9L579.8 736.2L574.1 741.8L567.2 742.4L559.8 744.2L549.6 748.6L539.9 756.7L537.1 770.7L534.2 777.8L527.4 790.2L521.7 796.9L516.6 801.5L509.2 811.7L500.7 820.0L493.3 820.0L484.2 817.2L480.8 817.9L487.0 824.1L485.9 841.9L460.3 849.2L443.2 871.6L426.2 937.3L423.3 964.7L409.1 969.5L392.0 937.3L394.9 895.2L394.9 864.0L396.6 834.7L405.7 806.9L406.2 786.9L409.7 768.1L412.5 746.1L413.6 725.2L413.1 715.0L406.8 710.2L400.6 706.0L389.2 697.1L379.5 686.6L374.4 676.6L365.9 659.9L360.2 648.9L353.9 639.2L350.5 634.6L356.2 627.2L358.5 620.4L352.8 620.4L355.0 610.7L357.3 603.3L364.7 597.6L372.7 585.7L372.7 576.5L372.7 570.2L369.8 566.8ZM781.1 388.1L777.2 384.6L770.9 379.6L762.4 381.0L762.9 370.2L759.0 368.8L759.5 363.6L762.4 355.5L762.9 344.1L760.1 336.4L767.5 330.9L780.0 331.7L791.4 333.3L802.8 333.3L805.6 324.6L806.2 312.5L800.5 303.4L787.4 297.5L785.7 292.4L795.9 288.9L803.9 290.7L803.9 281.1L811.9 284.6L818.7 279.3L822.1 270.4L831.2 266.8L835.8 261.3L839.7 252.0L844.3 247.2L852.8 246.3L861.4 245.3L861.9 232.6L859.1 225.7L859.6 213.4L867.0 210.3L873.3 203.9L880.7 203.9L876.7 190.9L873.9 183.1L867.0 190.9L858.5 199.6L852.8 200.7L844.9 190.9L841.4 174.0L841.4 156.3L847.1 149.0L858.5 141.6L864.2 135.2L872.7 123.5L881.3 110.1L887.0 96.1L892.6 81.5L901.2 66.3L909.7 58.5L918.2 45.5L932.5 38.9L946.7 28.6L959.8 23.4L972.3 25.2L989.4 37.2L997.9 45.5L1012.1 55.3L1029.2 66.3L1046.2 81.5L1063.3 66.3L1074.7 77.0L1091.8 74.0L1114.5 64.8L1123.0 70.9L1143.0 61.6L1154.3 58.5L1157.2 45.5L1177.1 53.7L1194.2 61.6L1202.7 70.9L1193.0 50.4L1202.7 33.8L1204.4 -2.1L1208.4 -17.6L1216.9 -21.6L1218.0 25.2L1219.8 66.3L1222.6 96.1L1228.3 91.8L1231.1 74.0L1242.5 81.5L1236.8 66.3L1228.3 58.5L1229.4 25.2L1234.0 -2.1L1251.0 3.5L1256.7 16.3L1271.0 7.2L1276.6 25.2L1279.5 50.4L1282.3 33.8L1285.2 16.3L1271.0 -21.6L1302.2 -31.7L1381.9 -126.4L1455.8 -31.7L1495.7 -15.6L1535.5 -21.6L1552.6 21.7L1566.8 16.3L1609.4 -2.1L1723.2 42.2L1837.0 74.0L1837.0 178.6L1723.2 178.6L1666.3 189.8L1615.1 251.0L1612.3 291.5L1581.0 332.5L1569.6 338.0L1563.4 335.6L1556.5 341.8L1551.4 350.2L1544.0 357.7L1538.3 360.7L1538.3 363.6L1543.5 369.5L1549.1 381.0L1549.1 388.1L1548.6 393.7L1541.2 395.8L1532.6 399.2L1531.5 391.6L1533.2 382.4L1533.2 377.4L1530.4 376.0L1525.2 373.1L1524.1 365.1L1520.7 359.9L1512.7 361.4L1504.8 367.3L1501.9 363.6L1507.0 355.5L1504.2 351.7L1495.7 357.7L1492.8 359.9L1482.6 366.6L1489.4 377.4L1492.8 380.3L1499.6 375.3L1509.9 378.2L1497.4 388.1L1492.3 395.1L1500.2 411.5L1506.5 417.6L1506.5 422.9L1504.2 426.9L1507.0 430.1L1504.2 438.6L1498.5 445.1L1493.4 454.6L1484.9 464.0L1478.6 469.7L1470.1 474.6L1462.7 477.7L1458.7 478.3L1450.2 480.8L1441.6 483.8L1439.9 489.9L1437.1 482.6L1433.1 482.0L1427.4 482.6L1422.3 486.2L1418.9 489.9L1414.3 499.6L1419.4 506.7L1428.5 515.1L1434.2 528.6L1434.8 539.1L1433.1 543.2L1422.3 548.7L1420.6 549.0L1411.5 558.8L1409.2 553.6L1409.8 549.5L1402.4 547.8L1399.0 543.7L1395.0 537.9L1387.6 535.0L1387.0 530.9L1384.7 530.4L1381.9 532.1L1381.3 539.1L1380.8 544.9L1377.9 550.7L1383.6 559.3L1384.2 566.8L1389.3 568.5L1394.4 572.5L1401.2 583.4L1400.7 586.2L1401.8 591.9L1405.8 599.9L1401.2 600.5L1394.4 595.4L1389.3 591.4L1383.6 577.1L1382.5 571.4L1380.2 567.4L1372.8 562.8L1372.2 556.5L1373.9 550.7L1373.9 536.8L1371.6 526.8L1368.2 512.7L1360.3 510.9L1353.4 516.8L1349.5 515.6L1350.0 506.7L1349.5 499.0L1345.5 492.9L1341.5 491.1L1336.4 483.2L1335.2 477.1L1327.8 478.3L1325.0 480.1L1319.9 481.4L1313.6 482.0L1307.9 482.6L1306.2 489.9L1301.1 492.9L1293.7 500.2L1286.9 505.5L1281.2 512.1L1274.9 515.6L1269.8 518.6L1268.7 532.7L1267.5 539.7L1267.5 549.0L1263.6 554.7L1257.9 557.0L1253.9 561.6L1248.2 556.5L1247.1 551.3L1244.2 543.2L1238.5 533.9L1234.5 521.6L1230.6 510.9L1227.7 498.4L1227.2 484.4L1225.4 477.7L1223.7 482.0L1216.9 486.9L1208.9 482.0L1205.5 477.7L1212.9 474.0L1205.5 474.6L1201.0 469.7L1194.2 462.2L1191.3 458.4L1180.5 459.7L1167.4 460.3L1163.4 459.7L1157.7 459.0L1141.8 457.1L1139.0 449.5L1133.3 447.0L1133.9 452.7L1133.6 460.3L1135.6 464.7L1140.1 468.4L1146.4 469.7L1153.2 476.5L1150.4 483.8L1146.4 489.3L1141.8 492.3L1141.2 498.4L1135.0 503.1L1127.0 506.7L1120.8 509.7L1110.0 515.6L1092.3 524.5L1086.1 527.4L1077.5 530.9L1069.0 534.4L1060.5 535.0L1059.3 536.8L1058.2 541.4L1066.2 548.4L1069.0 548.4L1077.5 546.6L1088.9 543.7L1104.3 540.3L1103.7 548.4L1102.0 555.3L1094.6 568.0L1088.9 577.7L1080.4 588.0L1070.7 596.5L1060.5 603.3L1054.8 609.9L1046.2 619.3L1041.1 626.1L1038.3 630.6L1035.4 636.9L1036.6 646.7L1037.7 653.5L1038.8 665.1L1041.7 666.8L1043.4 670.8L1044.5 691.3L1040.6 700.1L1022.9 711.4L1011.0 722.8L1014.4 733.2L1014.4 748.0L1000.7 757.4L998.5 761.1L1000.2 764.3L997.3 777.1L995.6 779.1L989.4 786.3L983.7 794.9L971.7 806.9L958.6 813.1L941.0 813.8L926.8 819.3L917.7 815.8L917.7 813.1L915.4 805.6L914.3 796.9L906.9 777.8L899.5 764.9L895.5 741.8L890.4 730.1L881.3 715.0L879.8 707.5L882.1 695.4L884.7 685.4L889.2 680.1L889.8 670.8L888.1 658.1L883.0 642.6L880.4 635.2L872.7 624.9L865.9 616.4L862.5 611.3L867.0 605.6L868.2 594.8L868.2 588.0L866.5 585.7L863.1 582.2L860.2 580.0L852.8 582.8L847.1 583.4L842.0 576.5L838.6 572.0L832.3 571.4L827.2 572.0L819.8 573.1L811.9 576.3L801.1 580.8L790.2 578.3L770.3 583.0L759.0 577.7L751.6 572.0L741.9 565.1L737.9 559.3L735.1 553.6L727.7 546.1L724.3 539.7L719.1 537.4L717.4 530.9L713.4 523.3L719.1 515.6L720.8 503.7L722.0 503.1L719.1 494.7L716.0 486.2L719.1 476.5L722.0 469.0L728.8 457.8L736.2 448.3L739.6 442.5L747.6 439.9L756.1 433.4L758.4 426.2L757.2 418.9L760.4 413.5L769.8 404.7L774.3 402.0L777.7 391.6L779.4 389.5Z" fill="#121212"/><path d="M781.1 388.1L782.8 387.0L788.0 383.2L798.8 382.4L800.5 383.2L803.9 378.9L808.4 376.7L810.2 371.7L814.1 368.8L811.3 362.9L818.1 354.0L825.5 348.7L831.2 344.9L830.6 336.4L835.8 332.5L840.3 333.3L843.7 334.1L850.0 335.6L854.5 330.9L863.1 325.4L868.8 327.8L871.6 332.5L876.1 341.1L882.4 346.4L889.8 350.2L893.8 353.2L898.3 357.7L902.3 359.9L904.6 368.8L902.0 373.8L904.6 373.8L907.4 371.0L910.3 366.6L907.4 359.9L910.8 355.5L915.4 357.0L917.4 360.7L918.2 358.1L914.8 354.7L909.1 351.0L904.0 348.7L905.2 344.9L898.9 344.9L893.8 340.3L890.4 332.5L884.7 327.8L883.0 317.4L891.5 315.3L890.4 322.2L894.9 318.2L899.5 327.0L906.3 332.5L916.0 339.5L920.5 342.6L923.4 345.7L923.9 352.5L923.9 355.5L926.8 362.2L930.8 368.0L933.6 371.7L933.0 375.3L936.4 382.4L941.0 385.3L943.8 384.6L945.0 385.3L942.7 377.4L947.8 374.6L949.5 376.0L950.1 372.4L943.3 364.4L946.7 359.2L950.7 357.7L943.3 354.7L951.8 352.5L960.3 352.9L964.3 356.2L962.0 359.2L961.5 362.9L965.5 368.8L967.2 371.0L963.2 371.7L967.7 377.4L968.9 381.0L974.0 382.4L978.5 383.9L986.5 386.0L987.6 381.7L995.0 384.6L1003.6 387.4L1009.8 382.4L1018.9 383.9L1016.7 388.1L1016.7 391.6L1017.2 395.8L1015.0 402.7L1012.1 410.2L1011.0 414.9L1009.3 418.9L1005.3 421.6L996.8 420.2L993.9 418.9L985.9 418.9L983.1 420.9L975.1 422.2L967.7 419.9L956.4 418.2L949.5 414.9L941.6 410.2L935.3 409.5L927.3 414.9L925.6 422.2L923.9 426.9L918.2 425.5L907.4 420.9L898.9 412.9L888.1 409.5L878.4 407.5L875.0 403.4L870.5 402.7L870.5 399.9L876.1 393.7L873.3 389.5L875.9 380.7L871.0 382.4L869.1 379.1L861.9 381.7L857.4 381.7L850.5 381.0L842.0 382.8L830.6 382.4L819.8 384.6L809.6 390.2L801.6 394.4L795.9 393.0L790.8 393.3L782.8 388.8L779.4 389.5ZM964.3 356.2L969.4 352.5L978.0 351.0L978.5 350.2L979.1 353.2L972.3 356.2L964.9 357.0ZM972.3 347.2L978.5 350.2L990.5 351.0L1000.7 344.9L1012.7 344.1L1019.5 349.5L1026.3 351.0L1038.8 351.7L1049.7 347.2L1049.9 343.0L1038.8 331.7L1028.0 323.0L1021.2 318.2L1026.3 312.5L1036.0 302.5L1026.3 303.4L1015.0 308.4L1011.5 314.1L1014.4 318.2L1020.6 317.4L1014.4 319.8L1007.6 324.6L1003.0 323.8L997.9 317.4L1003.6 313.3L995.0 309.2L987.6 308.4L982.0 318.2L975.7 327.0L972.3 334.9L969.4 340.3ZM1083.2 336.4L1087.8 343.7L1094.6 353.2L1099.7 355.5L1092.9 362.9L1090.9 368.4L1092.3 376.7L1094.6 377.4L1100.3 381.0L1108.8 383.9L1120.2 381.7L1119.6 378.9L1118.5 365.1L1113.9 359.2L1114.5 351.7L1112.2 344.1L1104.3 331.3L1099.2 323.8L1105.4 318.2L1114.5 310.0L1115.6 305.0L1108.3 303.4L1103.1 304.2L1092.9 308.4L1086.1 312.5L1081.5 322.2ZM1144.7 310.8L1152.1 314.1L1154.3 323.8L1148.6 327.0L1145.2 320.6ZM873.3 203.9L872.7 209.2L871.0 220.1L867.6 226.7L866.5 233.6L870.7 238.5L875.0 241.9L881.8 239.5L890.4 236.6L894.4 242.4L901.7 239.5L912.6 234.1L919.1 238.0L926.2 235.6L933.0 228.7L933.0 224.6L932.5 216.5L935.6 207.1L941.6 203.4L946.7 211.3L950.1 211.3L951.2 202.9L949.5 196.4L946.1 187.6L953.5 184.8L963.8 183.1L972.6 184.8L980.8 179.8L985.4 179.2L978.0 176.3L966.0 173.5L955.2 176.3L943.6 180.7L939.6 173.5L935.3 165.9L935.3 155.1L935.9 141.6L944.4 132.0L952.4 119.5L957.5 116.8L952.7 106.6L939.0 108.7L934.2 120.9L928.5 132.7L921.1 140.3L911.4 150.3L910.6 170.6L918.8 177.5L920.5 182.0L916.0 186.5L909.7 193.1L908.0 205.0L906.3 215.5L901.7 220.1L894.4 225.7L887.8 228.2L886.4 225.7L884.7 221.6L886.1 214.7L880.7 203.9ZM1048.0 83.0L1042.3 94.6L1032.0 101.7L1015.0 98.9L1004.1 91.8L997.3 87.4L1000.7 94.6L1011.0 105.9L1011.5 122.2L1019.5 128.8L1026.9 127.5L1024.6 119.5L1022.4 115.5L1030.3 116.8L1037.7 122.2L1043.4 122.9L1041.7 112.8L1046.2 103.1L1053.1 97.5L1064.4 101.7L1059.9 84.5L1059.3 64.8L1054.8 70.9ZM997.9 429.5L998.5 432.1L1004.1 442.5L1005.3 446.7L1008.1 454.0L1015.0 467.8L1022.9 479.5L1024.6 494.1L1032.6 504.3L1037.7 518.0L1049.1 528.6L1055.9 533.3L1059.3 535.6L1060.5 535.0L1057.3 522.7L1055.3 513.3L1055.1 510.3L1050.2 504.9L1043.4 494.7L1036.0 482.6L1029.5 466.5L1024.6 459.7L1020.1 451.4L1013.2 441.8L1011.5 432.1L1009.8 441.2L1008.1 443.4L1004.1 439.9L1000.2 432.1ZM1086.1 428.8L1091.2 426.2L1099.2 433.7L1102.0 436.0L1106.0 442.5L1114.5 448.9L1124.8 451.4L1133.3 447.0L1133.9 452.7L1131.6 454.6L1128.2 459.0L1122.5 464.0L1111.7 465.9L1106.5 465.3L1104.8 463.4L1102.0 462.2L1100.9 457.8L1098.0 451.4L1094.6 447.0L1089.5 441.2L1086.1 432.8L1085.5 432.1ZM289.1 306.7L298.2 307.5L309.5 304.2L314.7 308.4L323.8 307.5L331.7 308.4L330.6 302.5L324.9 296.6L320.9 289.8L310.7 288.9L303.8 295.8L296.4 300.9L289.6 305.9ZM313.5 346.4L315.2 347.2L320.3 342.6L322.6 334.9L321.5 327.8L326.0 319.0L330.6 314.1L326.0 313.3L319.2 313.3L314.7 319.8L312.9 328.6L313.5 340.3ZM344.2 336.4L343.7 328.6L339.1 327.0L338.0 319.0L333.4 314.9L330.6 312.5L337.4 311.7L348.2 312.5L355.0 313.3L357.9 320.6L356.2 324.6L350.5 319.0L348.2 321.4L348.2 332.5ZM338.5 346.4L342.5 347.9L352.2 345.7L359.0 342.6L364.1 338.0L356.2 339.5L349.4 339.5L343.7 343.4L339.7 344.1ZM359.0 334.1L362.4 334.9L372.1 334.1L378.9 332.5L378.9 327.0L372.1 328.6L364.1 329.4L359.0 331.7ZM261.2 274.0L265.2 267.7L262.3 255.7L256.6 244.3L252.6 247.2L257.8 260.4L260.0 269.5ZM147.4 164.7L158.8 167.1L170.2 161.1L181.5 149.0L173.0 145.3L161.6 151.5L153.1 155.1L147.4 160.0ZM101.9 116.8L113.3 119.5L130.3 112.8L138.9 96.1L124.6 88.9L113.3 96.1L101.9 103.1ZM212.8 189.8L229.9 187.6L232.7 192.0L215.7 194.2ZM244.1 213.4L249.8 205.0L256.6 208.2L248.7 216.5ZM397.7 246.3L403.4 241.5L406.2 248.2ZM235.6 247.2L247.0 242.4L248.7 252.9L243.0 256.6ZM1000.7 610.2L1003.6 606.7L1007.0 609.6L1006.4 614.7L1000.7 622.1L995.0 621.5L993.9 613.6L997.9 608.4ZM979.1 626.7L981.4 627.2L988.2 644.9L990.5 656.4L987.1 658.1L982.5 647.8L979.7 639.2ZM1008.1 662.2L1011.0 667.9L1012.7 682.5L1009.8 690.1L1008.1 685.4L1006.4 673.7ZM1403.5 264.0L1409.2 265.0L1418.9 255.7L1430.2 246.3L1435.9 224.6L1433.1 226.7L1424.6 245.3L1413.2 255.7ZM1231.1 307.5L1239.7 308.4L1251.0 309.2L1263.6 307.5L1262.4 305.0L1248.2 305.9L1238.5 305.0ZM1020.6 537.4L1026.9 539.1L1025.8 541.4L1023.5 540.8ZM326.6 540.3L329.4 543.7L325.5 544.6L323.8 541.4ZM418.8 696.0L422.7 698.9L418.8 701.9L414.8 697.7ZM889.2 529.8L896.1 529.2L897.2 533.9L892.6 535.6ZM1245.4 340.3L1259.6 338.7L1257.9 342.6L1247.1 342.6ZM983.7 167.1L989.4 161.1L999.6 164.7L997.9 175.2L989.4 179.8L984.8 172.9ZM1009.3 149.0L1015.0 145.3L1018.9 155.1L1015.0 164.7L1011.0 161.1ZM261.2 180.9L252.6 174.0L258.3 161.1L264.0 169.4ZM232.7 136.5L252.6 130.1L258.3 139.0L238.4 142.8ZM192.9 178.6L204.3 183.1L212.8 171.7L198.6 170.6ZM178.7 195.3L187.2 194.2L188.4 187.6L181.5 187.6ZM383.5 221.6L392.0 217.5L394.9 225.7L386.3 227.7ZM360.7 211.3L372.1 202.9L375.0 216.5L366.4 219.6ZM312.4 269.5L323.8 266.8L326.6 274.0L315.2 275.8ZM238.4 221.6L247.0 216.5L249.8 225.7L241.3 227.7ZM198.6 221.6L210.0 216.5L214.5 226.7L204.3 228.7ZM170.2 116.8L181.5 110.1L184.4 119.5ZM311.2 130.1L320.9 123.5L319.2 135.2Z" fill="#545454" stroke="#5e5e5e" stroke-width="1.5"/><path d="M1102.0 462.2L1106.5 460.9L1106.5 455.2L1104.3 453.7L1102.0 457.8ZM780.6 278.0L789.1 275.3L793.1 273.1L799.3 273.1L805.6 271.3L814.1 271.8L821.0 268.1L821.0 265.9L815.8 265.0L820.4 261.3L823.0 255.7L822.7 252.9L815.8 251.5L814.7 252.9L814.1 246.3L812.4 245.3L810.7 240.5L806.2 235.6L804.5 231.7L803.3 225.7L801.6 222.6L795.9 221.6L798.2 218.5L801.1 210.3L802.8 205.0L794.8 203.9L789.1 206.0L793.1 199.6L795.9 194.2L784.6 194.2L782.8 201.8L780.6 209.2L781.1 216.5L780.0 223.6L780.6 228.7L785.1 224.6L784.6 231.7L785.4 235.1L793.7 232.6L793.1 237.6L795.6 243.4L795.4 247.2L786.8 248.2L789.1 252.0L789.7 256.6L783.1 262.7L789.1 264.5L794.8 265.4L797.6 265.0L793.7 267.7L789.1 267.7L784.6 274.0ZM776.9 258.5L777.7 248.2L778.9 241.5L779.4 235.6L778.9 229.7L770.9 227.7L765.8 230.2L766.4 235.6L756.1 239.5L755.0 246.3L761.5 248.6L756.7 252.0L753.8 259.4L755.0 264.0L757.2 265.4L764.6 264.0L773.2 259.4ZM883.5 375.3L889.2 372.4L895.5 373.5L902.0 372.0L898.9 377.4L898.9 383.2L894.1 380.7L887.0 377.4L884.1 376.7ZM860.8 366.6L859.6 354.7L863.1 350.2L867.6 351.7L868.8 358.5L867.6 365.1L863.6 367.3ZM861.9 348.7L865.9 348.7L867.0 338.0L866.5 336.4L861.9 341.8ZM946.7 393.0L952.4 391.3L962.6 393.0L960.9 395.1L952.9 394.7L947.3 393.7ZM996.8 397.2L1000.7 397.9L1006.4 395.1L1009.8 390.2L1000.7 392.6L996.8 394.4ZM1114.5 21.7L1125.9 32.1L1140.1 30.4L1131.6 14.5L1128.7 -2.1L1134.4 -31.7L1114.5 -11.7L1106.0 7.2ZM1145.8 37.2L1157.2 43.9L1151.5 48.8L1144.7 42.2ZM875.6 227.7L880.1 231.7L884.7 225.7L884.1 221.1L878.4 221.6L875.0 224.6ZM868.2 226.7L871.6 231.7L874.4 228.7L872.7 225.7ZM916.0 210.3L920.0 206.0L920.5 201.8L918.2 201.8ZM906.3 219.6L907.4 219.6L910.3 208.2L909.1 208.2ZM937.0 197.5L939.3 200.7L945.6 195.3L939.9 194.2ZM1116.2 536.2L1123.0 535.0L1121.3 537.4L1117.9 537.4ZM1267.5 570.8L1267.0 562.2L1269.2 551.9L1273.2 559.3L1278.9 568.0L1277.2 572.5L1271.5 574.0L1268.7 572.0ZM1093.3 676.4L1098.6 688.3L1100.3 696.0L1096.3 706.0L1094.0 712.9L1088.9 727.1L1083.2 745.5L1080.9 754.2L1070.1 758.0L1063.3 754.2L1061.0 745.5L1059.3 733.2L1065.0 721.0L1064.4 709.0L1066.2 701.3L1076.4 698.3L1083.2 691.3L1087.2 685.4L1090.6 679.6ZM1496.2 473.4L1500.5 480.1L1504.2 470.3L1506.5 461.5L1504.2 459.0L1500.8 462.2L1496.8 470.3ZM1430.8 496.5L1435.9 502.6L1441.6 500.8L1444.5 494.1L1440.5 491.1L1434.2 492.3ZM1499.1 500.8L1508.2 500.8L1507.0 509.7L1504.8 516.2L1504.8 525.1L1509.9 527.4L1518.4 533.3L1519.6 535.6L1514.4 532.1L1508.8 530.4L1503.1 529.8L1499.1 527.4L1501.1 524.5L1497.4 524.5L1494.5 515.6L1496.8 515.1L1497.9 506.1ZM1507.6 568.5L1515.6 563.4L1521.3 559.3L1527.0 551.9L1532.6 565.1L1530.9 572.0L1526.4 576.0L1518.4 571.4ZM1520.1 536.2L1528.1 537.9L1528.1 544.9L1525.2 550.7L1522.4 549.5L1520.1 542.6ZM1507.0 539.7L1513.3 542.0L1514.4 547.8L1512.7 555.9L1509.3 553.6L1506.5 547.2ZM1497.9 530.4L1503.1 531.5L1503.6 537.4L1500.2 536.2ZM1479.7 559.9L1492.8 547.8L1493.4 542.6L1491.1 550.7L1482.0 561.1ZM1436.5 597.6L1433.1 607.9L1438.8 616.4L1444.5 624.9L1455.8 626.1L1464.4 629.5L1472.9 627.8L1475.8 622.1L1476.3 613.6L1481.4 607.9L1483.2 602.2L1490.0 602.2L1484.3 595.4L1483.7 585.1L1491.1 579.4L1487.7 575.4L1479.7 568.0L1476.3 569.1L1472.9 573.7L1468.9 578.8L1461.5 582.2L1455.8 589.7L1447.3 593.1L1440.5 598.2ZM1355.2 576.0L1367.7 578.3L1374.5 586.2L1384.2 595.4L1390.4 598.8L1401.8 605.0L1405.8 610.7L1407.5 618.7L1415.5 624.9L1414.9 640.9L1407.5 640.9L1401.8 635.2L1394.7 629.5L1383.9 613.3L1376.2 602.2L1375.1 598.2L1364.8 588.0L1356.3 582.2ZM1411.5 646.7L1420.6 642.6L1430.2 645.5L1441.1 647.5L1447.3 645.5L1454.1 648.9L1463.8 651.8L1463.8 657.0L1453.0 655.8L1441.6 654.1L1430.2 652.4L1418.9 650.1L1412.6 646.7ZM1492.3 639.2L1497.9 639.8L1496.8 623.8L1501.4 622.7L1504.8 635.2L1511.6 634.1L1503.1 618.7L1512.2 612.4L1504.8 611.3L1496.2 605.0L1501.4 600.5L1523.5 599.3L1512.7 602.8L1500.2 603.9L1495.1 610.7L1492.8 627.8ZM1558.2 613.6L1563.9 610.2L1575.3 613.0L1576.4 622.1L1583.8 626.7L1595.2 616.4L1615.1 622.7L1666.3 642.1L1666.3 667.9L1615.1 660.4L1598.1 655.8L1596.9 636.4L1581.0 632.4L1572.5 630.6L1563.9 624.4L1560.0 616.4ZM1462.1 735.0L1464.9 735.6L1477.5 727.7L1487.7 725.9L1501.4 721.0L1508.2 712.0L1515.6 703.1L1524.1 694.2L1534.4 687.7L1541.7 696.9L1549.7 693.6L1554.3 679.6L1557.1 679.3L1566.8 672.6L1586.7 676.6L1589.5 694.2L1609.4 709.0L1620.8 669.1L1637.9 694.2L1683.4 754.8L1666.3 838.3L1615.1 844.1L1598.1 824.1L1581.0 817.2L1561.1 796.9L1546.9 798.2L1529.8 802.2L1518.4 806.9L1506.5 812.4L1484.3 820.7L1467.8 815.8L1471.2 803.6L1471.8 799.5L1467.2 786.9L1464.9 779.1L1458.7 764.3L1458.1 758.0L1459.3 751.7L1461.0 739.3ZM1552.6 672.6L1561.1 672.0L1558.2 675.5L1553.7 674.9ZM1557.7 402.0L1561.1 397.9L1566.8 392.3L1572.5 391.6L1578.2 390.9L1583.8 390.2L1586.7 388.8L1590.7 379.6L1594.1 377.4L1592.4 382.4L1600.9 378.9L1603.8 374.6L1608.9 366.6L1610.0 361.4L1609.4 355.5L1611.7 350.2L1617.4 348.7L1618.0 355.5L1620.8 362.2L1618.0 371.7L1615.1 372.4L1615.1 381.0L1613.4 388.1L1614.6 390.2L1609.4 395.1L1608.3 395.8L1604.9 393.0L1602.6 397.9L1600.3 395.1L1595.2 397.9L1591.2 397.9L1588.4 400.6L1585.6 405.7L1581.6 400.6L1582.7 397.9L1577.0 397.2L1570.8 399.2L1566.5 399.6L1559.4 402.7ZM1557.7 402.7L1562.2 406.1L1563.4 410.8L1561.1 418.9L1556.5 422.2L1553.7 420.2L1551.4 410.8L1550.3 406.8L1554.8 404.7ZM1566.8 406.8L1569.6 410.2L1576.4 407.1L1579.3 401.3L1573.0 399.2L1567.9 402.7ZM1609.4 347.9L1615.1 345.7L1616.3 341.1L1627.9 344.9L1634.5 336.8L1641.3 334.1L1639.6 327.0L1633.9 327.8L1623.7 321.4L1620.3 316.6L1618.5 326.2L1617.4 334.1L1611.7 334.1L1608.9 339.5ZM1620.8 312.5L1629.4 308.4L1626.5 287.2L1635.0 287.2L1626.5 241.5L1623.7 239.5L1620.8 269.5ZM1467.2 654.1L1471.2 655.8L1468.4 658.1ZM1472.9 655.3L1476.9 655.3L1475.8 658.7L1472.9 658.1ZM1477.5 656.4L1490.0 654.1L1488.8 658.1L1478.6 659.3ZM1494.5 655.8L1512.7 654.7L1509.9 658.1L1495.7 658.1ZM1515.6 666.8L1537.2 655.8L1532.6 659.3L1521.3 666.2ZM1490.0 662.2L1500.2 663.9L1496.8 666.8ZM1529.8 625.5L1536.1 626.1L1535.5 629.5L1529.8 628.4ZM1540.6 624.4L1557.1 624.9L1555.4 628.4L1541.7 627.8ZM1538.3 597.6L1541.2 595.4L1544.6 602.2L1542.9 605.6L1546.3 609.6L1541.2 611.3L1538.9 605.0Z" fill="#121212"/><path d="M-5.0 -6.0L318.0 -6.0L318.0 95.0L-5.0 95.0Z" fill="#121212"/><path d="M-5.0 -4.2L97.8 -4.2L103.4 8.4L111.8 19.6L125.8 8.4L134.2 -4.2L141.1 -4.2L138.3 8.4L143.9 14.0L157.9 14.0L159.3 18.2L145.3 22.4L142.5 27.9L153.7 32.1L178.9 36.3L160.7 40.5L148.1 41.9L150.9 48.9L167.7 55.9L173.3 64.3L192.8 61.5L206.8 53.1L218.0 51.7L209.6 58.7L212.4 62.9L223.6 61.5L237.6 53.1L243.2 41.9L223.6 25.2L218.0 11.2L215.2 -4.2L244.6 -4.2L250.1 14.0L261.3 32.1L265.5 39.1L273.9 27.9L273.9 -4.2L287.9 -4.2L287.9 16.8L299.0 30.7L313.0 39.1L321.4 46.1L328.4 55.9L321.4 69.9L313.0 83.8L307.4 69.9L299.0 58.7L287.9 48.9L279.5 55.9L273.9 67.1L271.1 83.8L265.5 88.0L262.7 78.3L257.1 72.7L245.9 75.5L229.2 75.5L218.0 69.9L206.8 67.1L198.4 72.7L199.8 83.8L202.6 95.0L195.6 89.4L192.8 78.3L181.7 78.3L160.7 78.3L156.5 72.7L164.9 65.7L153.7 58.7L139.7 53.1L118.8 46.1L109.0 47.5L97.8 53.1L83.8 41.9L72.0 46.1L14.0 43.3L-5.0 43.3ZM1532.0 -2.0L1570.0 -2.0L1570.0 32.0L1558.0 30.0L1548.0 20.0L1540.0 10.0Z" fill="url(#zz)" stroke="#5e5e5e" stroke-width="1.5"/><path d="M1552.0 146.0L1550.0 134.0L1536.5 125.0L1523.0 112.0L1516.0 96.0L1514.0 80.0L1519.0 65.0L1523.0 51.0L1530.0 36.0L1537.0 31.0" fill="none" stroke="#8a8a8a" stroke-width="2"/><path d="M114.6 287.2L271.7 287.2L271.7 283.9L283.9 290.7L303.3 295.8L310.1 293.2L330.6 305.0L334.6 308.4L343.7 318.2L344.2 336.4L340.3 343.4L352.2 342.6L363.6 338.0L363.6 334.1L372.1 331.7L379.5 327.0L388.0 320.6L406.2 320.6L410.2 317.4L414.8 306.7L419.3 300.4L425.0 301.3L427.3 304.2L427.3 314.9L431.8 321.4M10.9 48.8L10.9 175.2L22.2 175.2L30.8 189.8L42.2 180.9L54.1 196.4L67.8 221.6L73.4 228.7M146.8 412.2L160.5 410.8L181.5 420.0L197.5 420.0L197.5 417.0L207.1 417.0L218.5 431.5L226.5 435.4L230.5 430.1L238.4 430.1L247.0 445.1L260.0 455.2M288.5 524.5L289.6 521.0L291.3 515.1L298.7 515.1L298.7 504.9L305.8 504.9L305.8 504.0L310.7 500.8M305.8 504.9L305.6 516.2L311.2 517.4M305.6 516.2L305.6 523.9L300.4 529.2M305.6 525.1L309.5 527.4L313.5 528.0L314.1 531.5M314.7 532.7L319.8 529.2L323.8 527.4L328.3 525.1L332.3 522.7L339.7 521.6M325.5 544.3L332.9 544.9L336.8 545.5M341.4 562.2L342.0 557.0L343.1 553.0M369.8 566.8L372.7 562.2L372.7 558.2M398.8 492.3L405.1 493.5L404.5 500.2L405.1 503.7M405.1 539.1L401.1 544.3L398.3 548.4L401.1 559.9L403.4 566.2L414.2 568.0L427.3 572.5L429.0 577.7L427.3 585.1L430.1 595.4L431.8 601.0M431.8 601.0L418.2 601.6L415.3 598.2L417.1 610.7L418.2 614.1L415.3 631.8M415.3 631.8L410.8 629.5L400.6 621.5L394.3 615.3L385.2 608.2M385.2 608.2L372.7 605.6L364.7 599.9M385.2 608.2L382.9 616.4L367.6 627.2L363.6 636.4L356.2 627.2M471.7 559.3L467.7 564.5L466.0 572.0L464.8 574.8L467.7 578.3M467.7 578.3L455.7 585.1L446.1 584.5L452.3 594.2L447.2 599.9L435.8 603.3L431.8 601.0M467.7 578.3L472.2 584.0L474.5 588.5L472.8 595.4L480.2 600.5L488.7 597.1L491.6 597.1M488.2 573.7L483.0 585.1L485.3 591.4L491.6 597.1M505.8 575.4L503.5 585.1L505.8 595.4L500.1 594.8M491.6 597.1L500.1 594.8L514.3 594.8L519.5 584.0M415.3 631.8L398.3 636.9L392.6 649.5L397.7 661.6L411.4 662.2L411.4 670.8L417.1 670.8M417.1 670.8L422.7 671.4L437.5 663.9L441.5 669.7L443.2 676.6L459.2 683.6L468.8 687.2L470.5 701.9L480.8 701.9L481.9 709.0L485.9 713.2M417.1 670.8L422.2 679.6L418.2 693.6L420.5 701.3L417.6 709.0L412.5 714.1M417.6 709.0L423.3 718.0L425.0 731.9L430.7 739.9M430.7 739.9L439.2 736.8L447.2 741.1L455.7 736.2M455.7 736.2L456.9 727.7L462.0 721.6L476.8 719.8L481.9 722.8L485.9 713.2M481.9 722.8L484.2 736.8L495.6 738.1L497.8 748.6L504.1 749.2L502.4 758.6M455.7 736.2L471.7 748.6L485.3 757.4L479.6 769.4L492.7 770.1L502.4 758.6M502.4 758.6L507.5 762.4L506.9 768.1L496.1 775.2L485.3 788.2M485.3 788.2L481.9 802.9L480.8 813.8M485.3 788.2L494.4 792.2L502.4 796.9L509.2 811.7M430.7 739.9L425.0 751.1L422.7 767.5L416.5 776.5L414.8 788.9L411.9 806.9L413.6 820.7L409.1 856.5M762.4 344.9L766.4 343.4L775.5 344.9L773.7 351.7L773.2 361.4L770.3 362.2L773.2 367.3L770.9 373.8L770.9 379.6M802.8 333.3L809.0 337.2L817.0 338.0L822.7 340.3L831.2 341.1M827.2 268.6L831.2 272.2L836.9 275.8L840.3 278.4L846.0 282.8M832.3 266.3L838.6 265.9L841.4 265.0L846.0 267.7L846.6 271.3L847.1 271.8M847.1 271.8L849.4 275.8L847.7 277.6L850.0 280.2L849.4 282.8L846.0 282.8M849.4 282.8L849.4 285.5L859.6 287.2L856.2 299.2M856.2 299.2L852.8 300.0L847.7 307.5L847.1 310.8L851.7 313.3L852.8 313.3M852.8 313.3L853.4 319.0L850.5 319.8L852.8 327.0L855.7 330.1M852.8 313.3L861.4 308.4L864.2 314.1L870.5 310.0L872.7 305.0M856.2 299.2L861.9 297.5L867.6 300.0L867.6 303.4L872.7 305.0M867.6 300.0L872.7 300.0L882.4 299.2L887.0 300.0L885.8 295.8L891.5 290.7M891.5 290.7L884.7 283.7L881.8 275.8L894.4 270.4L897.2 270.4M897.2 270.4L896.1 262.2L896.1 254.8L893.8 244.3M847.1 271.8L847.7 267.7L851.1 261.3L852.8 258.5L853.4 249.1L854.0 248.2M861.9 232.6L866.5 233.6M872.7 305.0L881.8 304.2L890.9 308.4M890.9 308.4L896.1 309.2L904.0 306.7M904.0 306.7L906.9 300.0L910.3 295.8M910.3 295.8L909.1 290.7L898.3 287.2L891.5 290.7M897.2 270.4L905.7 272.2L908.6 276.7L915.4 278.4L920.0 282.8M909.1 290.7L914.3 288.1L920.0 282.8M920.0 282.8L926.8 285.5L941.6 286.3M910.3 295.8L920.0 297.5L929.6 291.5L938.7 292.4M938.7 292.4L941.6 286.3M941.6 286.3L949.5 274.9L947.3 265.0M947.3 265.0L946.7 254.8L949.0 249.1L946.7 241.5L942.7 237.6L924.5 237.6M942.7 237.6L943.3 232.6L934.2 229.7M932.5 220.6L943.8 218.5L955.2 219.6L964.3 224.6M946.7 241.5L955.2 239.5L959.8 232.6L964.3 224.6M951.2 202.9L958.1 201.8L968.9 206.0M964.3 224.6L973.4 220.6L971.7 208.2L968.9 206.0M968.9 206.0L971.2 200.7L969.4 192.0L972.6 184.8M971.2 172.9L980.8 161.1L992.2 144.1L983.1 130.1L983.7 116.8L979.7 101.7L983.7 78.5L976.3 64.8L975.1 58.5L978.0 47.2L988.8 48.8M950.1 105.9L947.8 91.8L949.0 75.5L932.5 58.5M932.5 58.5L940.4 63.2L955.2 64.8L960.9 47.2L975.1 58.5M877.9 189.8L884.1 171.7L882.4 155.1L882.4 136.5L892.6 123.5L901.2 98.9L915.4 66.3L929.6 58.5L932.5 58.5M890.9 308.4L890.4 314.1M890.4 316.6L900.0 316.6L902.3 310.8L907.4 308.4M907.4 308.4L913.7 313.3L920.0 313.3M920.0 313.3L921.1 319.0L923.4 321.4M902.3 319.0L906.9 319.0L918.2 319.8L923.4 321.4M902.3 319.0L903.5 323.8L906.3 329.4L913.1 336.4L918.2 340.3M923.4 321.4L922.8 328.6L923.9 333.3L920.5 334.9L918.2 340.3M943.3 296.6L936.4 304.2L928.5 311.7M920.0 313.3L928.5 311.7M938.7 292.4L943.3 296.6M943.3 296.6L954.7 298.3L964.3 293.2L968.9 299.2L973.4 308.4L973.4 316.6M964.3 293.2L970.6 291.5L979.1 296.6L984.2 309.2L977.4 313.3L973.4 316.6M973.4 316.6L982.0 319.0M928.5 311.7L935.3 319.0L942.1 324.6L942.1 327.0M942.1 327.0L952.4 330.9L961.5 329.4L968.3 327.8L975.7 330.9M942.1 327.0L940.4 336.4L943.3 341.8M922.8 334.9L928.5 337.2L932.5 342.6L935.9 341.8L940.4 341.8M929.6 351.0L932.5 342.6M940.4 341.8L943.3 349.5L931.9 352.5M926.2 361.4L930.8 358.5L932.5 353.2M923.4 344.9L925.6 340.3L929.6 342.6L929.6 351.0M943.3 349.5L949.5 347.9L960.9 346.4L962.0 349.5L960.9 353.2M962.0 346.4L967.7 344.1L972.3 344.1M771.5 230.7L770.3 234.6L766.4 236.6L770.3 240.5L777.2 240.5M947.3 265.0L955.2 261.3L966.6 265.0L975.1 264.0L986.5 266.8L993.9 259.4M993.9 259.4L992.2 249.1L997.9 243.4L988.2 225.7L973.4 220.6M993.9 259.4L1006.4 257.6L1015.0 274.9L1030.3 278.4L1040.6 282.0L1039.4 297.5L1030.3 303.4M1049.7 347.2L1058.8 350.2L1061.0 355.5L1063.3 360.7L1067.9 361.4L1064.4 375.3L1067.9 379.6L1054.2 380.3L1040.6 382.4L1029.2 382.4L1021.2 382.4L1019.5 386.7L1017.2 388.8M1040.6 333.3L1051.9 334.9L1062.7 339.5L1073.0 340.3L1077.0 344.9M1060.5 351.0L1069.0 350.2L1077.0 344.9M1069.0 350.2L1071.8 359.2L1078.1 367.3M1077.0 344.9L1089.5 345.7M1067.9 361.4L1077.5 367.3L1086.1 366.6L1086.1 371.0L1090.9 371.0M1091.8 309.2L1089.5 294.9L1077.5 291.5L1082.1 275.8L1090.0 273.1L1100.3 263.1L1116.8 266.8L1129.9 273.1L1143.0 269.5L1154.3 261.3L1163.4 257.6L1160.0 245.3L1168.6 241.5L1183.9 236.6L1205.5 227.7L1216.9 239.5L1231.1 241.5L1248.2 241.5L1262.4 253.8L1268.1 267.7L1285.2 269.5L1296.6 281.1L1309.6 286.3M1309.6 286.3L1300.5 302.5L1285.2 302.5L1282.9 318.2L1268.1 320.6L1269.8 328.6L1269.2 342.6M1269.2 342.6L1259.6 338.0L1239.7 338.0L1218.0 338.0L1216.3 342.6M1216.3 342.6L1202.7 351.7L1191.3 344.9L1188.5 336.4L1179.9 330.9L1165.7 332.5L1145.8 316.6L1131.6 320.6L1131.6 349.5M1131.6 349.5L1121.3 341.8L1113.9 344.9M1131.6 349.5L1140.1 349.5L1154.9 348.7L1162.9 359.2L1167.4 363.6L1177.1 368.0L1191.3 378.2M1119.6 378.9L1128.7 373.8L1139.0 372.4L1151.5 379.6L1157.2 383.9L1160.6 383.9M1160.6 383.9L1167.4 393.0L1179.9 386.0L1191.3 378.2M1191.3 378.2L1198.7 380.3L1208.4 376.7L1219.8 374.6L1218.6 381.0L1226.6 381.0L1239.1 378.2M1216.3 342.6L1219.8 349.5L1214.1 352.5L1207.2 357.7L1215.2 359.9L1231.7 363.6M1207.2 357.7L1202.7 362.9L1197.0 366.6L1199.8 373.8L1208.4 376.7M1231.7 363.6L1222.6 364.4L1216.9 362.9L1211.2 359.2M1160.6 383.9L1157.2 398.5L1159.5 405.4L1157.7 418.9L1164.0 419.6L1164.6 423.6L1159.5 430.1M1159.5 430.1L1168.6 432.8L1179.9 431.5L1190.2 429.5L1193.6 420.2L1207.2 416.2L1210.7 402.7L1217.5 399.2L1220.3 388.1L1234.0 381.7L1239.1 378.2M1159.5 430.1L1169.7 439.9L1173.1 447.0L1170.3 452.1L1163.4 459.7M1067.9 379.6L1073.6 389.5L1074.7 395.1L1073.0 399.2L1075.8 408.8L1083.8 414.2L1085.5 422.2L1086.1 428.8M1054.2 380.3L1048.0 385.3L1046.2 399.2L1033.7 406.1M1033.7 406.1L1036.0 414.2L1042.8 416.2L1051.9 421.6L1067.3 434.1L1077.5 434.7L1083.2 435.4L1086.1 432.8M1077.5 434.7L1088.3 438.6M1033.7 406.1L1022.4 413.5L1016.7 410.8M1016.7 410.8L1017.8 406.1L1021.2 400.6L1017.8 397.9M1012.7 408.1L1016.7 406.8M1036.0 414.2L1023.5 418.9L1029.2 425.5L1026.3 428.8L1017.8 434.1L1012.1 432.8M1012.1 432.1L1015.0 418.9L1015.5 410.8M1011.5 432.1L1007.6 420.2M1056.5 513.3L1066.2 507.3L1077.5 507.9L1086.1 502.6L1094.6 500.2L1108.8 497.7L1115.1 512.1L1110.0 515.6M1108.8 497.7L1125.9 491.7L1129.3 479.5L1127.0 475.2L1112.2 474.0L1106.5 465.3M1127.0 475.2L1131.6 467.2L1133.3 461.5M801.6 394.4L803.3 402.0L804.5 410.8L792.5 418.2L791.4 423.6L781.1 431.5L763.5 437.3M763.5 437.3L763.5 446.3L774.9 454.6L785.7 460.9M763.5 446.3L763.5 454.6L744.7 454.6L744.7 470.6L738.5 474.6L739.0 483.5L716.3 483.5M785.7 460.9L778.9 485.6L781.7 513.3L761.8 518.6L748.1 518.6L743.6 523.3M743.6 523.3L733.4 512.1L719.1 514.5M743.6 523.3L748.1 536.8M717.4 529.8L734.5 529.8L734.5 531.5L717.4 532.7M718.0 536.8L735.1 535.6L748.1 536.8M735.1 535.6L735.1 540.8L727.7 546.1M748.1 536.8L762.9 537.9L766.4 548.4M737.3 556.5L752.1 554.7L754.4 559.3L759.0 565.7L764.6 564.5L768.1 559.3L766.4 548.4M754.4 559.3L747.6 568.5M764.6 564.5L765.8 570.8L770.3 583.0M766.4 548.4L777.7 547.8L782.3 548.4L787.4 539.1L795.9 530.4L807.3 521.6L814.1 522.1M782.3 548.4L797.1 553.0L796.5 544.9L810.2 544.9L818.1 544.9M797.1 553.0L795.4 578.8M813.0 544.9L815.8 559.3L819.8 573.1M818.1 544.9L822.1 556.5L822.1 572.5M828.4 571.4L828.4 556.5L833.5 540.8M818.1 544.9L826.7 539.7L833.5 540.8M814.1 522.1L818.1 530.9L826.7 539.7M814.1 522.1L833.5 518.0L836.9 497.1M836.9 497.1L819.8 487.5L785.7 460.9M836.9 497.1L858.5 482.6L881.3 470.3M881.3 470.3L869.9 462.2L871.6 451.4L867.0 445.1L869.3 426.9M869.9 427.5L871.6 418.2L878.4 407.5M869.9 427.5L864.2 414.2L859.6 399.2L861.4 381.7M881.3 470.3L892.6 475.8L898.3 473.4M898.3 473.4L901.2 488.7L902.3 494.7L889.8 525.1M833.5 540.8L836.3 530.4L850.0 530.4L867.0 534.4L884.1 532.7L889.8 528.6L892.6 532.7M898.3 473.4L949.5 494.7M949.5 494.7L949.5 491.7L955.2 491.7L955.2 479.5M955.2 479.5L955.2 432.1L956.4 418.2M955.2 479.5L1022.9 479.5M949.5 494.7L948.4 517.4L940.4 526.8L938.2 535.0L942.7 544.9L946.7 550.7M892.6 532.7L895.5 539.1L898.3 550.7L892.6 553.6L901.2 565.1M901.2 565.1L918.2 557.6L932.5 553.6L942.7 544.9M892.6 532.7L889.8 544.9L881.3 559.3L875.6 570.8L867.6 573.7L861.9 581.7M901.2 565.1L895.5 579.4L904.0 595.4M904.0 595.4L887.0 595.4L877.3 595.4L868.8 594.8M877.3 595.4L877.3 602.2L866.5 602.2M887.0 595.4L895.5 609.0L892.6 621.5L876.1 630.1M904.0 595.4L918.2 587.4M918.2 587.4L929.6 582.8L941.0 584.0L955.2 579.4L968.9 578.8M946.7 550.7L955.2 565.1L968.9 578.8M946.7 550.7L960.9 553.6L978.0 552.4L997.9 537.9L1006.4 553.6M1006.4 553.6L1012.1 546.6L1020.6 525.7L1023.5 509.7L1032.6 504.3M1006.4 553.6L1006.4 559.9L1000.7 562.8L1017.2 581.7M918.2 587.4L913.7 609.0L905.2 619.3L899.5 632.4L883.0 636.4M883.0 642.6L904.0 643.2L907.4 649.5L915.4 653.5L937.0 649.5L937.0 662.2L939.3 671.4L949.5 670.8M949.5 670.8L956.9 672.0L969.4 679.6L978.0 684.8L982.5 677.8L975.1 659.3M975.1 659.3L988.2 654.7L980.8 639.2L979.7 626.7M979.7 626.7L978.0 623.8L981.4 615.8L982.5 607.9L986.5 599.3L991.1 595.4L988.2 588.0L968.9 578.8M979.7 626.7L986.5 621.5L988.2 613.6M978.0 623.8L983.7 621.5M988.2 588.0L1003.6 586.2L1009.3 581.7M1006.4 584.0L1012.1 599.3L1006.4 607.9L1005.9 613.6M981.4 613.6L1005.9 613.6M1005.9 613.6L1026.9 624.9L1036.0 634.6M1017.2 581.7L1029.2 587.4L1037.7 588.5L1051.4 585.1L1046.2 591.9L1046.2 613.6L1049.7 617.5M1051.4 585.1L1057.6 580.0L1068.4 579.4L1085.5 562.2L1063.3 556.5L1056.5 544.9M1020.6 525.7L1029.2 524.5L1040.6 524.5L1054.2 536.2L1050.8 544.9L1056.5 544.9M1043.4 667.9L1026.3 674.3L1012.1 673.7M988.2 654.7L1000.2 661.6L1009.3 662.2M1000.2 661.6L1003.6 670.8L1000.7 688.3M1012.1 673.7L1009.8 690.1L1016.7 700.1L1013.8 706.6L1008.1 694.2L1000.7 688.3M1000.7 688.3L985.9 697.7M985.9 697.7L977.4 700.1L956.9 710.8M949.5 670.8L949.5 682.5L938.2 682.5L938.2 701.3L946.1 709.6L956.9 710.8M879.8 707.5L889.8 706.0L918.2 708.4L932.5 712.0L946.1 709.6M932.5 712.0L932.5 736.2L926.8 736.2L926.8 753.6M926.8 753.6L926.8 776.5L906.9 777.8M926.8 753.6L941.0 763.0L958.1 758.6L966.6 748.6L980.3 736.8M956.9 710.8L963.8 721.0L971.2 728.3L980.3 736.8M985.9 697.7L1000.7 703.1L999.6 718.0L997.9 731.9L991.1 738.7M980.3 736.8L991.1 738.7M991.1 738.7L995.0 751.7L995.0 761.1L1000.2 766.9M966.6 784.3L972.3 779.1L980.3 781.7L978.5 788.2L972.3 790.9L968.3 788.9L966.6 784.3M989.4 759.9L995.0 761.1L994.5 768.8L989.4 769.4L988.2 764.3L989.4 759.9M1312.5 285.5L1325.0 276.7L1336.4 271.3L1350.6 278.4L1367.7 279.3L1370.5 265.0L1381.9 262.2L1393.3 266.8L1404.6 276.7L1418.9 275.8L1427.4 282.8L1438.8 285.5L1461.5 275.8L1476.9 279.3M1312.5 285.5L1316.5 294.1L1327.8 304.2L1330.7 316.6L1344.9 321.4L1359.1 338.0L1381.9 339.5L1410.3 347.2L1424.6 341.1L1441.6 339.5L1449.0 330.9L1447.3 320.6L1461.5 317.4L1475.8 309.2L1494.0 304.2L1491.1 298.3L1481.4 298.3L1476.9 279.3M1476.9 279.3L1483.2 282.8L1495.7 278.4L1500.2 260.4L1512.7 246.3L1529.8 252.9L1538.3 280.2L1555.4 291.5L1569.6 294.1L1581.0 292.4L1575.3 302.5L1569.6 319.0L1558.2 321.4L1559.4 337.2L1556.5 341.8M1556.5 341.8L1541.2 344.1L1532.6 347.9L1520.7 359.9M1530.4 376.0L1535.5 371.7L1543.5 369.5M1309.6 286.3L1312.5 285.5M1269.2 342.6L1256.7 351.7L1242.5 354.7L1232.3 362.9L1238.5 370.2L1239.1 378.2M1239.1 378.2L1255.6 391.6L1261.3 402.0L1264.1 412.2L1259.6 418.9L1268.1 427.5M1268.1 427.5L1276.6 426.2L1288.0 434.1L1299.4 439.9L1313.6 442.5M1268.7 436.7L1276.6 441.8L1290.9 445.7L1302.2 450.8L1314.2 452.1L1313.6 442.5M1318.2 447.6L1322.2 441.2L1334.7 443.1L1350.6 434.1L1359.1 432.8L1366.5 440.5M1318.2 447.6L1327.8 449.5L1336.4 448.9M1318.7 481.4L1317.6 467.2L1313.6 464.0L1316.5 459.0L1319.3 453.3L1323.9 455.2L1336.4 460.3L1338.1 467.2L1334.1 473.4L1338.1 483.2M1366.5 440.5L1364.8 448.3L1356.3 450.8L1351.2 460.3L1348.9 468.4L1343.8 473.4L1342.6 479.5L1339.8 483.8M1201.0 469.0L1208.4 465.3L1216.9 464.7L1212.9 456.5L1211.2 448.3L1222.6 441.8L1231.1 429.5L1237.4 422.2L1238.5 415.6L1239.7 402.0L1255.6 391.6M1366.5 440.5L1373.4 448.3L1374.5 457.8L1368.8 467.2L1379.0 478.9L1387.6 482.0M1387.6 482.0L1382.5 489.3L1373.4 493.5L1368.8 500.8L1373.9 513.9L1372.2 519.8L1377.3 533.3L1374.5 549.0M1387.6 482.0L1393.3 477.1L1399.0 476.5L1404.6 474.6L1416.0 474.0L1421.7 480.8L1427.4 482.6M1393.8 477.1L1399.5 486.2L1406.4 488.7L1410.3 499.0L1418.3 508.5L1424.6 521.6L1424.6 524.5M1382.5 489.3L1387.6 494.7L1388.7 504.9L1396.1 503.7L1405.8 507.3L1409.2 515.6L1413.2 525.7M1413.2 525.7L1399.0 525.1L1396.1 530.4L1395.0 537.9M1413.2 525.7L1418.9 524.5L1424.6 524.5L1424.6 537.4L1416.0 544.9L1407.5 548.4M1382.5 571.4L1387.6 573.7L1393.8 572.5M1436.5 597.6L1444.5 602.2L1455.8 599.9L1464.4 599.3L1470.1 592.5L1472.9 583.4L1482.0 584.0M1462.1 581.7L1464.9 585.1L1468.9 583.4L1468.4 579.4M1615.1 622.7L1615.1 660.4M1523.5 660.4L1524.7 662.7" fill="none" stroke="#b2b2b2" stroke-width="2.7" stroke-linejoin="round" stroke-linecap="round" filter="url(#soft)"/></svg>
<svg style="position:absolute;left:0;top:0" width="1568" height="820"><circle cx="858.4" cy="272.4" r="19.5" fill="#7a0a2a" fill-opacity="0.92" stroke="#5a0010" stroke-width="3"/><circle cx="1130.6" cy="634.1" r="12.3" fill="#d6bd6f" stroke="#c4a23c" stroke-width="3"/></svg>
<div style="position:absolute;left:20.5px;top:20px;width:51.5px;height:104px;background:#333;border-radius:8px;box-shadow:0 2px 6px rgba(0,0,0,0.4)"></div>
<div style="position:absolute;left:20.5px;top:70px;width:51.5px;height:2px;background:#464646"></div>
<svg style="position:absolute;left:20.5px;top:20px" width="52" height="104"><path d="M26.5 18 V39 M16 28.5 H37" stroke="#e0e0e0" stroke-width="4.6"/><path d="M17.5 79.4 H35.5" stroke="#e0e0e0" stroke-width="4.6"/></svg>
<div style="position:absolute;left:20.5px;top:144px;width:51.5px;height:52px;background:#333;border-radius:8px;box-shadow:0 2px 6px rgba(0,0,0,0.4)"></div>
<svg style="position:absolute;left:20.5px;top:144px" width="52" height="52"><path d="M17.5 14 V31.5 H37 M14.5 19.5 H33 V38" stroke="#e0e0e0" stroke-width="3.8" fill="none"/><path d="M19.5 31 L36.5 14.5" stroke="#e0e0e0" stroke-width="1.3"/></svg>
<div style="position:absolute;left:20.2px;top:216px;width:51.7px;height:104px;background:#333;border-radius:8px;box-shadow:0 2px 6px rgba(0,0,0,0.4)"></div>
<div style="position:absolute;left:20.2px;top:266px;width:51.7px;height:2px;background:#464646"></div>
<svg style="position:absolute;left:0;top:0" width="100" height="330"><path d="M44.5 230.1 L58.1 236.3 L56.1 251.6 L41.1 254.1 L34.1 240.6 Z" fill="#dcdcdc"/><rect x="35.9" y="283.9" width="20.2" height="20.2" fill="#dcdcdc"/></svg>
<div style="position:absolute;left:1378.5px;top:534.5px;width:169px;height:233.5px;background:rgba(40,40,40,0.18);border-radius:8px"></div>
</div>
<div style="position:absolute;left:3154.7px;top:899.1px;font-size:23.5px;line-height:23.5px;color:#9a9a9a;font-weight:bold;letter-spacing:-0.20px;white-space:nowrap;will-change:transform;">Count</div>
<div style="position:absolute;left:3153.9px;top:934.2px;width:15px;height:15px;border-radius:50%;background:#fedf82;border:2.5px solid #c9a43c"></div>
<div style="position:absolute;left:3183.0px;top:933.2px;font-size:23.0px;line-height:23.0px;color:#9c9c9c;font-weight:bold;letter-spacing:-0.70px;white-space:nowrap;will-change:transform;">1 – 6.6</div>
<div style="position:absolute;left:3153.9px;top:968.0px;width:15px;height:15px;border-radius:50%;background:#fda148;border:2.5px solid #c86b12"></div>
<div style="position:absolute;left:3183.0px;top:967.0px;font-size:23.0px;line-height:23.0px;color:#9c9c9c;font-weight:bold;letter-spacing:-0.70px;white-space:nowrap;will-change:transform;">6.6 – 12.2</div>
<div style="position:absolute;left:3153.9px;top:1001.9px;width:15px;height:15px;border-radius:50%;background:#fc4d2a;border:2.5px solid #c21c0a"></div>
<div style="position:absolute;left:3183.0px;top:1000.9px;font-size:23.0px;line-height:23.0px;color:#9c9c9c;font-weight:bold;letter-spacing:-0.70px;white-space:nowrap;will-change:transform;">12.2 – 17.8</div>
<div style="position:absolute;left:3153.9px;top:1036.2px;width:15px;height:15px;border-radius:50%;background:#e0141c;border:2.5px solid #9a0a10"></div>
<div style="position:absolute;left:3183.0px;top:1035.2px;font-size:23.0px;line-height:23.0px;color:#9c9c9c;font-weight:bold;letter-spacing:-0.70px;white-space:nowrap;will-change:transform;">17.8 – 23.4</div>
<div style="position:absolute;left:3153.9px;top:1070.0px;width:15px;height:15px;border-radius:50%;background:#7f0a28;border:2.5px solid #4a0010"></div>
<div style="position:absolute;left:3183.0px;top:1069.0px;font-size:23.0px;line-height:23.0px;color:#9c9c9c;font-weight:bold;letter-spacing:-0.70px;white-space:nowrap;will-change:transform;">23.4 – 29</div>
<div style="position:absolute;left:2786px;top:1134.5px;width:542px;height:31.5px;background:rgba(45,45,45,0.75)"></div>
<div style="position:absolute;left:2820px;top:1138px;width:156px;height:26px;background:#383838"></div>
<div style="position:absolute;left:3112px;top:1138px;width:209px;height:26px;background:#383838"></div>
<div style="position:absolute;left:2794.0px;top:1139.0px;font-size:22.5px;line-height:22.5px;color:#9a9a9a;font-weight:normal;letter-spacing:-0.20px;white-space:nowrap;will-change:transform;">© <span style="color:#f0f0f0">OpenStreetMap</span> contributors, <span style="color:#f0f0f0">Elastic Maps Service</span></div>
<div style="position:absolute;left:0;top:0;width:106px;height:1834px;background:#e20074"></div>
<div style="position:absolute;left:0;top:296px;width:106px;height:76px;background:#9f0050"></div>
<svg style="position:absolute;left:0;top:0" width="106" height="130"><path d="M20 31.2 H89.5 L90 59 H84.7 C83 45 75 35.1 61.6 35.1 V95 C61.6 102 66 103.9 76 103.9 V108.8 H33.1 V103.9 C43 103.9 47.3 102 47.3 95 V35.1 C34 35.1 26 45 24 59 H20 Z" fill="#fff"/><rect x="20" y="66.7" width="16.9" height="16" fill="#fff"/><rect x="72.2" y="66.7" width="17.8" height="16" fill="#fff"/></svg>
<svg style="position:absolute;left:0;top:0" width="106" height="1834"><circle cx="54" cy="177.6" r="15.8" stroke="#fff" stroke-width="4.2" fill="none"/><path d="M45.4 186.6 L51 173.5 L62.8 168.7 L57.2 181.8 Z" fill="#fff"/><circle cx="54.1" cy="177.6" r="2.3" fill="#e20074"/><path d="M36.2 236.3 H40.4 V263.1 H72 V267.6 H36.2 Z" fill="#fff"/><rect x="44.9" y="244.8" width="8.9" height="13.7" fill="#fff"/><rect x="58.6" y="236.3" width="9.2" height="22.2" fill="#fff"/><circle cx="54" cy="329.9" r="15.9" stroke="#fff" stroke-width="4.2" fill="none"/><path d="M47.0 326.8 L54.4 334.3" stroke="#fff" stroke-width="4.4" stroke-linecap="round"/><circle cx="54.4" cy="334.3" r="4.6" fill="#fff"/><circle cx="54.4" cy="322.6" r="2.3" fill="#fff"/><circle cx="60.8" cy="327.6" r="2.3" fill="#fff"/><path d="M37 393 C40 391 44 392 46 394 C51 392.5 57 392.5 62 394 C64 392 68 391 71 393 C72.5 396 72 399 70.5 401 C72 406 71 413 66 417 C61 421 47 421 42 417 C37 413 36 406 37.5 401 C36 399 35.5 396 37 393 Z" fill="#fff"/><path d="M45 400 L50 402 M63 400 L58 402" stroke="#e20074" stroke-width="1.6"/><ellipse cx="54" cy="412" rx="5.5" ry="4.2" fill="#e20074"/><ellipse cx="54" cy="404.5" rx="3" ry="1.8" fill="#e20074"/><path d="M38 498 L56 480" stroke="#fff" stroke-width="7.5" stroke-linecap="round"/><circle cx="63" cy="473" r="9.5" fill="#fff"/><path d="M62 462 L74 462 L74 470 L66 474 Z" fill="#e20074"/><circle cx="39.5" cy="497" r="2" fill="#e20074"/><path d="M54 576.3 L37.5 560 C33 554 36 543.5 45 543.5 C49.5 543.5 52.5 546 54 548.5 C55.5 546 58.5 543.5 63 543.5 C72 543.5 75 554 70.5 560 Z" fill="#fff"/><path d="M36 561.5 H45 L48 556 L51 566 L55 551 L58 563 L60 561.5 H72" stroke="#e20074" stroke-width="2" fill="none"/><rect x="50.2" y="616" width="7.6" height="7" fill="#fff" transform="rotate(0 54 634)"/><rect x="50.2" y="616" width="7.6" height="7" fill="#fff" transform="rotate(45 54 634)"/><rect x="50.2" y="616" width="7.6" height="7" fill="#fff" transform="rotate(90 54 634)"/><rect x="50.2" y="616" width="7.6" height="7" fill="#fff" transform="rotate(135 54 634)"/><rect x="50.2" y="616" width="7.6" height="7" fill="#fff" transform="rotate(180 54 634)"/><rect x="50.2" y="616" width="7.6" height="7" fill="#fff" transform="rotate(225 54 634)"/><rect x="50.2" y="616" width="7.6" height="7" fill="#fff" transform="rotate(270 54 634)"/><rect x="50.2" y="616" width="7.6" height="7" fill="#fff" transform="rotate(315 54 634)"/><circle cx="54" cy="634" r="11" stroke="#fff" stroke-width="8" fill="none"/><circle cx="54" cy="1796" r="18.5" fill="#fff"/><path d="M49 1787 L62 1796 L49 1805 Z" fill="#e20074"/></svg>
</body></html>
